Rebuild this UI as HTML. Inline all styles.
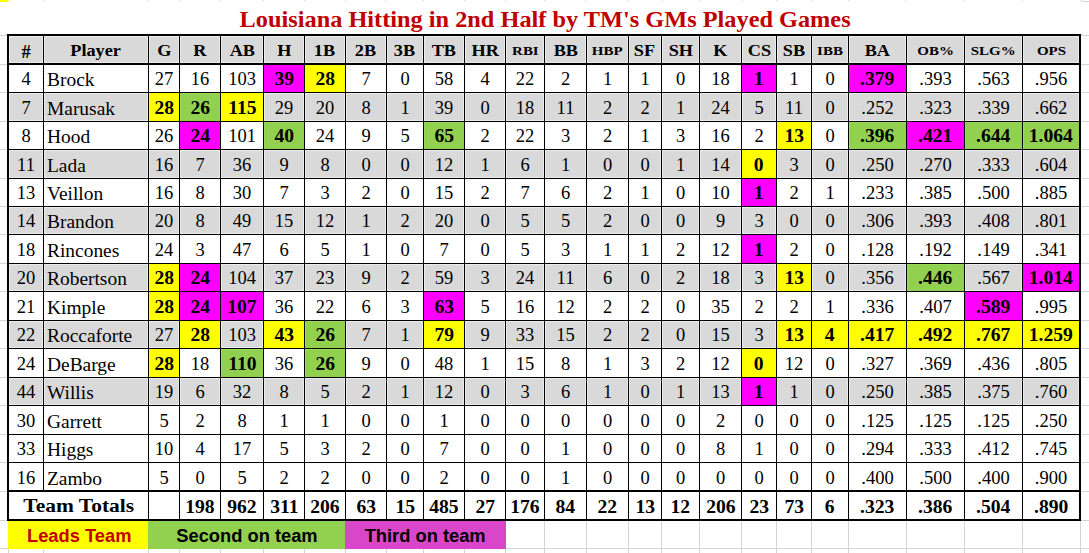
<!DOCTYPE html>
<html><head><meta charset="utf-8"><title>Louisiana Hitting</title>
<style>
*{margin:0;padding:0;box-sizing:border-box}
html,body{width:1089px;height:553px;overflow:hidden;background:#fff}
body{position:relative;font-family:"Liberation Serif",serif;color:#000}
.r{position:absolute}
.g{background:#d9d9d9;box-shadow:inset 0 0 0 1px #ececec}
.t{position:absolute;white-space:nowrap;overflow:visible}
.c{text-align:center}
.l{text-align:left;padding-left:3px}
.hb{font-weight:bold;font-size:16.3px}
.hs{font-weight:bold;font-size:12.8px}
.d{font-size:18.5px}
.b{font-weight:bold}
.tt{font-size:18.5px}
.lg{font-family:"Liberation Sans",sans-serif;font-weight:bold;font-size:17.6px}
.title{position:absolute;left:1px;top:0;width:1089px;height:34px;text-align:center;
 color:#c00000;font-weight:bold;font-size:23.9px;line-height:34px;padding-top:0px}
</style></head>
<body>
<div class="r" style="left:43px;top:0px;width:1px;height:1px;background:#d4d4d4;"></div>
<div class="r" style="left:148px;top:0px;width:1px;height:1px;background:#d4d4d4;"></div>
<div class="r" style="left:179px;top:0px;width:1px;height:1px;background:#d4d4d4;"></div>
<div class="r" style="left:220px;top:0px;width:1px;height:1px;background:#d4d4d4;"></div>
<div class="r" style="left:263px;top:0px;width:1px;height:1px;background:#d4d4d4;"></div>
<div class="r" style="left:304px;top:0px;width:1px;height:1px;background:#d4d4d4;"></div>
<div class="r" style="left:345px;top:0px;width:1px;height:1px;background:#d4d4d4;"></div>
<div class="r" style="left:386px;top:0px;width:1px;height:1px;background:#d4d4d4;"></div>
<div class="r" style="left:423px;top:0px;width:1px;height:1px;background:#d4d4d4;"></div>
<div class="r" style="left:464px;top:0px;width:1px;height:1px;background:#d4d4d4;"></div>
<div class="r" style="left:505px;top:0px;width:1px;height:1px;background:#d4d4d4;"></div>
<div class="r" style="left:544px;top:0px;width:1px;height:1px;background:#d4d4d4;"></div>
<div class="r" style="left:586px;top:0px;width:1px;height:1px;background:#d4d4d4;"></div>
<div class="r" style="left:628px;top:0px;width:1px;height:1px;background:#d4d4d4;"></div>
<div class="r" style="left:661px;top:0px;width:1px;height:1px;background:#d4d4d4;"></div>
<div class="r" style="left:699px;top:0px;width:1px;height:1px;background:#d4d4d4;"></div>
<div class="r" style="left:741px;top:0px;width:1px;height:1px;background:#d4d4d4;"></div>
<div class="r" style="left:776px;top:0px;width:1px;height:1px;background:#d4d4d4;"></div>
<div class="r" style="left:811px;top:0px;width:1px;height:1px;background:#d4d4d4;"></div>
<div class="r" style="left:848px;top:0px;width:1px;height:1px;background:#d4d4d4;"></div>
<div class="r" style="left:906px;top:0px;width:1px;height:1px;background:#d4d4d4;"></div>
<div class="r" style="left:964px;top:0px;width:1px;height:1px;background:#d4d4d4;"></div>
<div class="r" style="left:1022px;top:0px;width:1px;height:1px;background:#d4d4d4;"></div>
<div class="r" style="left:1080px;top:0px;width:1px;height:1px;background:#d4d4d4;"></div>
<div class="r" style="left:1081px;top:1px;width:8px;height:1px;background:#d4d4d4;"></div>
<div class="r" style="left:0px;top:0px;width:9px;height:1px;background:#ffff00;"></div>
<div class="r" style="left:0px;top:1px;width:8px;height:1px;background:#ffff00;"></div>
<div class="r" style="left:0px;top:35px;width:7px;height:1px;background:#d4d4d4;"></div>
<div class="r" style="left:1081px;top:35px;width:8px;height:1px;background:#d4d4d4;"></div>
<div class="r" style="left:0px;top:64px;width:7px;height:1px;background:#d4d4d4;"></div>
<div class="r" style="left:1081px;top:64px;width:8px;height:1px;background:#d4d4d4;"></div>
<div class="r" style="left:0px;top:92px;width:7px;height:1px;background:#d4d4d4;"></div>
<div class="r" style="left:1081px;top:92px;width:8px;height:1px;background:#d4d4d4;"></div>
<div class="r" style="left:0px;top:121px;width:7px;height:1px;background:#d4d4d4;"></div>
<div class="r" style="left:1081px;top:121px;width:8px;height:1px;background:#d4d4d4;"></div>
<div class="r" style="left:0px;top:149px;width:7px;height:1px;background:#d4d4d4;"></div>
<div class="r" style="left:1081px;top:149px;width:8px;height:1px;background:#d4d4d4;"></div>
<div class="r" style="left:0px;top:178px;width:7px;height:1px;background:#d4d4d4;"></div>
<div class="r" style="left:1081px;top:178px;width:8px;height:1px;background:#d4d4d4;"></div>
<div class="r" style="left:0px;top:206px;width:7px;height:1px;background:#d4d4d4;"></div>
<div class="r" style="left:1081px;top:206px;width:8px;height:1px;background:#d4d4d4;"></div>
<div class="r" style="left:0px;top:234px;width:7px;height:1px;background:#d4d4d4;"></div>
<div class="r" style="left:1081px;top:234px;width:8px;height:1px;background:#d4d4d4;"></div>
<div class="r" style="left:0px;top:263px;width:7px;height:1px;background:#d4d4d4;"></div>
<div class="r" style="left:1081px;top:263px;width:8px;height:1px;background:#d4d4d4;"></div>
<div class="r" style="left:0px;top:291px;width:7px;height:1px;background:#d4d4d4;"></div>
<div class="r" style="left:1081px;top:291px;width:8px;height:1px;background:#d4d4d4;"></div>
<div class="r" style="left:0px;top:320px;width:7px;height:1px;background:#d4d4d4;"></div>
<div class="r" style="left:1081px;top:320px;width:8px;height:1px;background:#d4d4d4;"></div>
<div class="r" style="left:0px;top:348px;width:7px;height:1px;background:#d4d4d4;"></div>
<div class="r" style="left:1081px;top:348px;width:8px;height:1px;background:#d4d4d4;"></div>
<div class="r" style="left:0px;top:377px;width:7px;height:1px;background:#d4d4d4;"></div>
<div class="r" style="left:1081px;top:377px;width:8px;height:1px;background:#d4d4d4;"></div>
<div class="r" style="left:0px;top:405px;width:7px;height:1px;background:#d4d4d4;"></div>
<div class="r" style="left:1081px;top:405px;width:8px;height:1px;background:#d4d4d4;"></div>
<div class="r" style="left:0px;top:434px;width:7px;height:1px;background:#d4d4d4;"></div>
<div class="r" style="left:1081px;top:434px;width:8px;height:1px;background:#d4d4d4;"></div>
<div class="r" style="left:0px;top:462px;width:7px;height:1px;background:#d4d4d4;"></div>
<div class="r" style="left:1081px;top:462px;width:8px;height:1px;background:#d4d4d4;"></div>
<div class="r" style="left:0px;top:491px;width:7px;height:1px;background:#d4d4d4;"></div>
<div class="r" style="left:1081px;top:491px;width:8px;height:1px;background:#d4d4d4;"></div>
<div class="r" style="left:0px;top:520px;width:7px;height:1px;background:#d4d4d4;"></div>
<div class="r" style="left:1081px;top:520px;width:8px;height:1px;background:#d4d4d4;"></div>
<div class="r" style="left:1081px;top:548px;width:8px;height:1px;background:#d4d4d4;"></div>
<div class="r" style="left:0px;top:548px;width:8px;height:1px;background:#d4d4d4;"></div>
<div class="r" style="left:506px;top:548px;width:575px;height:1px;background:#d4d4d4;"></div>
<div class="r" style="left:544px;top:521px;width:1px;height:27px;background:#d4d4d4;"></div>
<div class="r" style="left:586px;top:521px;width:1px;height:27px;background:#d4d4d4;"></div>
<div class="r" style="left:628px;top:521px;width:1px;height:27px;background:#d4d4d4;"></div>
<div class="r" style="left:661px;top:521px;width:1px;height:27px;background:#d4d4d4;"></div>
<div class="r" style="left:699px;top:521px;width:1px;height:27px;background:#d4d4d4;"></div>
<div class="r" style="left:741px;top:521px;width:1px;height:27px;background:#d4d4d4;"></div>
<div class="r" style="left:776px;top:521px;width:1px;height:27px;background:#d4d4d4;"></div>
<div class="r" style="left:811px;top:521px;width:1px;height:27px;background:#d4d4d4;"></div>
<div class="r" style="left:848px;top:521px;width:1px;height:27px;background:#d4d4d4;"></div>
<div class="r" style="left:906px;top:521px;width:1px;height:27px;background:#d4d4d4;"></div>
<div class="r" style="left:964px;top:521px;width:1px;height:27px;background:#d4d4d4;"></div>
<div class="r" style="left:1022px;top:521px;width:1px;height:27px;background:#d4d4d4;"></div>
<div class="r" style="left:8px;top:549px;width:1px;height:4px;background:#d4d4d4;"></div>
<div class="r" style="left:43px;top:549px;width:1px;height:4px;background:#d4d4d4;"></div>
<div class="r" style="left:148px;top:549px;width:1px;height:4px;background:#d4d4d4;"></div>
<div class="r" style="left:179px;top:549px;width:1px;height:4px;background:#d4d4d4;"></div>
<div class="r" style="left:220px;top:549px;width:1px;height:4px;background:#d4d4d4;"></div>
<div class="r" style="left:263px;top:549px;width:1px;height:4px;background:#d4d4d4;"></div>
<div class="r" style="left:304px;top:549px;width:1px;height:4px;background:#d4d4d4;"></div>
<div class="r" style="left:345px;top:549px;width:1px;height:4px;background:#d4d4d4;"></div>
<div class="r" style="left:386px;top:549px;width:1px;height:4px;background:#d4d4d4;"></div>
<div class="r" style="left:423px;top:549px;width:1px;height:4px;background:#d4d4d4;"></div>
<div class="r" style="left:464px;top:549px;width:1px;height:4px;background:#d4d4d4;"></div>
<div class="r" style="left:505px;top:549px;width:1px;height:4px;background:#d4d4d4;"></div>
<div class="r" style="left:544px;top:549px;width:1px;height:4px;background:#d4d4d4;"></div>
<div class="r" style="left:586px;top:549px;width:1px;height:4px;background:#d4d4d4;"></div>
<div class="r" style="left:628px;top:549px;width:1px;height:4px;background:#d4d4d4;"></div>
<div class="r" style="left:661px;top:549px;width:1px;height:4px;background:#d4d4d4;"></div>
<div class="r" style="left:699px;top:549px;width:1px;height:4px;background:#d4d4d4;"></div>
<div class="r" style="left:741px;top:549px;width:1px;height:4px;background:#d4d4d4;"></div>
<div class="r" style="left:776px;top:549px;width:1px;height:4px;background:#d4d4d4;"></div>
<div class="r" style="left:811px;top:549px;width:1px;height:4px;background:#d4d4d4;"></div>
<div class="r" style="left:848px;top:549px;width:1px;height:4px;background:#d4d4d4;"></div>
<div class="r" style="left:906px;top:549px;width:1px;height:4px;background:#d4d4d4;"></div>
<div class="r" style="left:964px;top:549px;width:1px;height:4px;background:#d4d4d4;"></div>
<div class="r" style="left:1022px;top:549px;width:1px;height:4px;background:#d4d4d4;"></div>
<div class="r" style="left:1080px;top:549px;width:1px;height:4px;background:#d4d4d4;"></div>
<div class="r" style="left:1080px;top:521px;width:1px;height:27px;background:#d4d4d4;"></div>
<div class="r g" style="left:9px;top:36px;width:34px;height:27px"></div>
<div class="r g" style="left:44px;top:36px;width:104px;height:27px"></div>
<div class="r g" style="left:149px;top:36px;width:30px;height:27px"></div>
<div class="r g" style="left:180px;top:36px;width:40px;height:27px"></div>
<div class="r g" style="left:221px;top:36px;width:42px;height:27px"></div>
<div class="r g" style="left:264px;top:36px;width:40px;height:27px"></div>
<div class="r g" style="left:305px;top:36px;width:40px;height:27px"></div>
<div class="r g" style="left:346px;top:36px;width:40px;height:27px"></div>
<div class="r g" style="left:387px;top:36px;width:36px;height:27px"></div>
<div class="r g" style="left:424px;top:36px;width:40px;height:27px"></div>
<div class="r g" style="left:465px;top:36px;width:40px;height:27px"></div>
<div class="r g" style="left:506px;top:36px;width:38px;height:27px"></div>
<div class="r g" style="left:545px;top:36px;width:41px;height:27px"></div>
<div class="r g" style="left:587px;top:36px;width:41px;height:27px"></div>
<div class="r g" style="left:629px;top:36px;width:32px;height:27px"></div>
<div class="r g" style="left:662px;top:36px;width:37px;height:27px"></div>
<div class="r g" style="left:700px;top:36px;width:41px;height:27px"></div>
<div class="r g" style="left:742px;top:36px;width:34px;height:27px"></div>
<div class="r g" style="left:777px;top:36px;width:34px;height:27px"></div>
<div class="r g" style="left:812px;top:36px;width:36px;height:27px"></div>
<div class="r g" style="left:849px;top:36px;width:57px;height:27px"></div>
<div class="r g" style="left:907px;top:36px;width:57px;height:27px"></div>
<div class="r g" style="left:965px;top:36px;width:57px;height:27px"></div>
<div class="r g" style="left:1023px;top:36px;width:56px;height:27px"></div>
<div class="r" style="left:263px;top:64px;width:42px;height:29px;background:#ff00ff;"></div>
<div class="r" style="left:304px;top:64px;width:42px;height:29px;background:#ffff00;"></div>
<div class="r" style="left:741px;top:64px;width:36px;height:29px;background:#ff00ff;"></div>
<div class="r" style="left:848px;top:64px;width:59px;height:29px;background:#ff00ff;"></div>
<div class="r g" style="left:9px;top:93px;width:34px;height:28px"></div>
<div class="r g" style="left:44px;top:93px;width:104px;height:28px"></div>
<div class="r" style="left:148px;top:92px;width:32px;height:30px;background:#ffff00;"></div>
<div class="r" style="left:179px;top:92px;width:42px;height:30px;background:#92d050;"></div>
<div class="r" style="left:180px;top:93px;width:40px;height:28px;box-shadow:inset 1px 1px 0 #99dc58"></div>
<div class="r" style="left:220px;top:92px;width:44px;height:30px;background:#ffff00;"></div>
<div class="r g" style="left:264px;top:93px;width:40px;height:28px"></div>
<div class="r g" style="left:305px;top:93px;width:40px;height:28px"></div>
<div class="r g" style="left:346px;top:93px;width:40px;height:28px"></div>
<div class="r g" style="left:387px;top:93px;width:36px;height:28px"></div>
<div class="r g" style="left:424px;top:93px;width:40px;height:28px"></div>
<div class="r g" style="left:465px;top:93px;width:40px;height:28px"></div>
<div class="r g" style="left:506px;top:93px;width:38px;height:28px"></div>
<div class="r g" style="left:545px;top:93px;width:41px;height:28px"></div>
<div class="r g" style="left:587px;top:93px;width:41px;height:28px"></div>
<div class="r g" style="left:629px;top:93px;width:32px;height:28px"></div>
<div class="r g" style="left:662px;top:93px;width:37px;height:28px"></div>
<div class="r g" style="left:700px;top:93px;width:41px;height:28px"></div>
<div class="r g" style="left:742px;top:93px;width:34px;height:28px"></div>
<div class="r g" style="left:777px;top:93px;width:34px;height:28px"></div>
<div class="r g" style="left:812px;top:93px;width:36px;height:28px"></div>
<div class="r g" style="left:849px;top:93px;width:57px;height:28px"></div>
<div class="r g" style="left:907px;top:93px;width:57px;height:28px"></div>
<div class="r g" style="left:965px;top:93px;width:57px;height:28px"></div>
<div class="r g" style="left:1023px;top:93px;width:56px;height:28px"></div>
<div class="r" style="left:179px;top:121px;width:42px;height:29px;background:#ff00ff;"></div>
<div class="r" style="left:263px;top:121px;width:42px;height:29px;background:#92d050;"></div>
<div class="r" style="left:264px;top:122px;width:40px;height:27px;box-shadow:inset 1px 1px 0 #99dc58"></div>
<div class="r" style="left:423px;top:121px;width:42px;height:29px;background:#92d050;"></div>
<div class="r" style="left:424px;top:122px;width:40px;height:27px;box-shadow:inset 1px 1px 0 #99dc58"></div>
<div class="r" style="left:776px;top:121px;width:36px;height:29px;background:#ffff00;"></div>
<div class="r" style="left:848px;top:121px;width:59px;height:29px;background:#92d050;"></div>
<div class="r" style="left:849px;top:122px;width:57px;height:27px;box-shadow:inset 1px 1px 0 #99dc58"></div>
<div class="r" style="left:906px;top:121px;width:59px;height:29px;background:#ff00ff;"></div>
<div class="r" style="left:964px;top:121px;width:59px;height:29px;background:#92d050;"></div>
<div class="r" style="left:965px;top:122px;width:57px;height:27px;box-shadow:inset 1px 1px 0 #99dc58"></div>
<div class="r" style="left:1022px;top:121px;width:58px;height:29px;background:#92d050;"></div>
<div class="r" style="left:1023px;top:122px;width:56px;height:27px;box-shadow:inset 1px 1px 0 #99dc58"></div>
<div class="r g" style="left:9px;top:150px;width:34px;height:28px"></div>
<div class="r g" style="left:44px;top:150px;width:104px;height:28px"></div>
<div class="r g" style="left:149px;top:150px;width:30px;height:28px"></div>
<div class="r g" style="left:180px;top:150px;width:40px;height:28px"></div>
<div class="r g" style="left:221px;top:150px;width:42px;height:28px"></div>
<div class="r g" style="left:264px;top:150px;width:40px;height:28px"></div>
<div class="r g" style="left:305px;top:150px;width:40px;height:28px"></div>
<div class="r g" style="left:346px;top:150px;width:40px;height:28px"></div>
<div class="r g" style="left:387px;top:150px;width:36px;height:28px"></div>
<div class="r g" style="left:424px;top:150px;width:40px;height:28px"></div>
<div class="r g" style="left:465px;top:150px;width:40px;height:28px"></div>
<div class="r g" style="left:506px;top:150px;width:38px;height:28px"></div>
<div class="r g" style="left:545px;top:150px;width:41px;height:28px"></div>
<div class="r g" style="left:587px;top:150px;width:41px;height:28px"></div>
<div class="r g" style="left:629px;top:150px;width:32px;height:28px"></div>
<div class="r g" style="left:662px;top:150px;width:37px;height:28px"></div>
<div class="r g" style="left:700px;top:150px;width:41px;height:28px"></div>
<div class="r" style="left:741px;top:149px;width:36px;height:30px;background:#ffff00;"></div>
<div class="r g" style="left:777px;top:150px;width:34px;height:28px"></div>
<div class="r g" style="left:812px;top:150px;width:36px;height:28px"></div>
<div class="r g" style="left:849px;top:150px;width:57px;height:28px"></div>
<div class="r g" style="left:907px;top:150px;width:57px;height:28px"></div>
<div class="r g" style="left:965px;top:150px;width:57px;height:28px"></div>
<div class="r g" style="left:1023px;top:150px;width:56px;height:28px"></div>
<div class="r" style="left:741px;top:178px;width:36px;height:29px;background:#ff00ff;"></div>
<div class="r g" style="left:9px;top:207px;width:34px;height:27px"></div>
<div class="r g" style="left:44px;top:207px;width:104px;height:27px"></div>
<div class="r g" style="left:149px;top:207px;width:30px;height:27px"></div>
<div class="r g" style="left:180px;top:207px;width:40px;height:27px"></div>
<div class="r g" style="left:221px;top:207px;width:42px;height:27px"></div>
<div class="r g" style="left:264px;top:207px;width:40px;height:27px"></div>
<div class="r g" style="left:305px;top:207px;width:40px;height:27px"></div>
<div class="r g" style="left:346px;top:207px;width:40px;height:27px"></div>
<div class="r g" style="left:387px;top:207px;width:36px;height:27px"></div>
<div class="r g" style="left:424px;top:207px;width:40px;height:27px"></div>
<div class="r g" style="left:465px;top:207px;width:40px;height:27px"></div>
<div class="r g" style="left:506px;top:207px;width:38px;height:27px"></div>
<div class="r g" style="left:545px;top:207px;width:41px;height:27px"></div>
<div class="r g" style="left:587px;top:207px;width:41px;height:27px"></div>
<div class="r g" style="left:629px;top:207px;width:32px;height:27px"></div>
<div class="r g" style="left:662px;top:207px;width:37px;height:27px"></div>
<div class="r g" style="left:700px;top:207px;width:41px;height:27px"></div>
<div class="r g" style="left:742px;top:207px;width:34px;height:27px"></div>
<div class="r g" style="left:777px;top:207px;width:34px;height:27px"></div>
<div class="r g" style="left:812px;top:207px;width:36px;height:27px"></div>
<div class="r g" style="left:849px;top:207px;width:57px;height:27px"></div>
<div class="r g" style="left:907px;top:207px;width:57px;height:27px"></div>
<div class="r g" style="left:965px;top:207px;width:57px;height:27px"></div>
<div class="r g" style="left:1023px;top:207px;width:56px;height:27px"></div>
<div class="r" style="left:741px;top:234px;width:36px;height:30px;background:#ff00ff;"></div>
<div class="r g" style="left:9px;top:264px;width:34px;height:27px"></div>
<div class="r g" style="left:44px;top:264px;width:104px;height:27px"></div>
<div class="r" style="left:148px;top:263px;width:32px;height:29px;background:#ffff00;"></div>
<div class="r" style="left:179px;top:263px;width:42px;height:29px;background:#ff00ff;"></div>
<div class="r g" style="left:221px;top:264px;width:42px;height:27px"></div>
<div class="r g" style="left:264px;top:264px;width:40px;height:27px"></div>
<div class="r g" style="left:305px;top:264px;width:40px;height:27px"></div>
<div class="r g" style="left:346px;top:264px;width:40px;height:27px"></div>
<div class="r g" style="left:387px;top:264px;width:36px;height:27px"></div>
<div class="r g" style="left:424px;top:264px;width:40px;height:27px"></div>
<div class="r g" style="left:465px;top:264px;width:40px;height:27px"></div>
<div class="r g" style="left:506px;top:264px;width:38px;height:27px"></div>
<div class="r g" style="left:545px;top:264px;width:41px;height:27px"></div>
<div class="r g" style="left:587px;top:264px;width:41px;height:27px"></div>
<div class="r g" style="left:629px;top:264px;width:32px;height:27px"></div>
<div class="r g" style="left:662px;top:264px;width:37px;height:27px"></div>
<div class="r g" style="left:700px;top:264px;width:41px;height:27px"></div>
<div class="r g" style="left:742px;top:264px;width:34px;height:27px"></div>
<div class="r" style="left:776px;top:263px;width:36px;height:29px;background:#ffff00;"></div>
<div class="r g" style="left:812px;top:264px;width:36px;height:27px"></div>
<div class="r g" style="left:849px;top:264px;width:57px;height:27px"></div>
<div class="r" style="left:906px;top:263px;width:59px;height:29px;background:#92d050;"></div>
<div class="r" style="left:907px;top:264px;width:57px;height:27px;box-shadow:inset 1px 1px 0 #99dc58"></div>
<div class="r g" style="left:965px;top:264px;width:57px;height:27px"></div>
<div class="r" style="left:1022px;top:263px;width:58px;height:29px;background:#ff00ff;"></div>
<div class="r" style="left:148px;top:291px;width:32px;height:30px;background:#ffff00;"></div>
<div class="r" style="left:179px;top:291px;width:42px;height:30px;background:#ff00ff;"></div>
<div class="r" style="left:220px;top:291px;width:44px;height:30px;background:#ff00ff;"></div>
<div class="r" style="left:423px;top:291px;width:42px;height:30px;background:#ff00ff;"></div>
<div class="r" style="left:964px;top:291px;width:59px;height:30px;background:#ff00ff;"></div>
<div class="r g" style="left:9px;top:321px;width:34px;height:27px"></div>
<div class="r g" style="left:44px;top:321px;width:104px;height:27px"></div>
<div class="r g" style="left:149px;top:321px;width:30px;height:27px"></div>
<div class="r" style="left:179px;top:320px;width:42px;height:29px;background:#ffff00;"></div>
<div class="r g" style="left:221px;top:321px;width:42px;height:27px"></div>
<div class="r" style="left:263px;top:320px;width:42px;height:29px;background:#ffff00;"></div>
<div class="r" style="left:304px;top:320px;width:42px;height:29px;background:#92d050;"></div>
<div class="r" style="left:305px;top:321px;width:40px;height:27px;box-shadow:inset 1px 1px 0 #99dc58"></div>
<div class="r g" style="left:346px;top:321px;width:40px;height:27px"></div>
<div class="r g" style="left:387px;top:321px;width:36px;height:27px"></div>
<div class="r" style="left:423px;top:320px;width:42px;height:29px;background:#ffff00;"></div>
<div class="r g" style="left:465px;top:321px;width:40px;height:27px"></div>
<div class="r g" style="left:506px;top:321px;width:38px;height:27px"></div>
<div class="r g" style="left:545px;top:321px;width:41px;height:27px"></div>
<div class="r g" style="left:587px;top:321px;width:41px;height:27px"></div>
<div class="r g" style="left:629px;top:321px;width:32px;height:27px"></div>
<div class="r g" style="left:662px;top:321px;width:37px;height:27px"></div>
<div class="r g" style="left:700px;top:321px;width:41px;height:27px"></div>
<div class="r g" style="left:742px;top:321px;width:34px;height:27px"></div>
<div class="r" style="left:776px;top:320px;width:36px;height:29px;background:#ffff00;"></div>
<div class="r" style="left:811px;top:320px;width:38px;height:29px;background:#ffff00;"></div>
<div class="r" style="left:848px;top:320px;width:59px;height:29px;background:#ffff00;"></div>
<div class="r" style="left:906px;top:320px;width:59px;height:29px;background:#ffff00;"></div>
<div class="r" style="left:964px;top:320px;width:59px;height:29px;background:#ffff00;"></div>
<div class="r" style="left:1022px;top:320px;width:58px;height:29px;background:#ffff00;"></div>
<div class="r" style="left:148px;top:348px;width:32px;height:30px;background:#ffff00;"></div>
<div class="r" style="left:220px;top:348px;width:44px;height:30px;background:#92d050;"></div>
<div class="r" style="left:221px;top:349px;width:42px;height:28px;box-shadow:inset 1px 1px 0 #99dc58"></div>
<div class="r" style="left:304px;top:348px;width:42px;height:30px;background:#92d050;"></div>
<div class="r" style="left:305px;top:349px;width:40px;height:28px;box-shadow:inset 1px 1px 0 #99dc58"></div>
<div class="r" style="left:741px;top:348px;width:36px;height:30px;background:#ffff00;"></div>
<div class="r g" style="left:9px;top:378px;width:34px;height:27px"></div>
<div class="r g" style="left:44px;top:378px;width:104px;height:27px"></div>
<div class="r g" style="left:149px;top:378px;width:30px;height:27px"></div>
<div class="r g" style="left:180px;top:378px;width:40px;height:27px"></div>
<div class="r g" style="left:221px;top:378px;width:42px;height:27px"></div>
<div class="r g" style="left:264px;top:378px;width:40px;height:27px"></div>
<div class="r g" style="left:305px;top:378px;width:40px;height:27px"></div>
<div class="r g" style="left:346px;top:378px;width:40px;height:27px"></div>
<div class="r g" style="left:387px;top:378px;width:36px;height:27px"></div>
<div class="r g" style="left:424px;top:378px;width:40px;height:27px"></div>
<div class="r g" style="left:465px;top:378px;width:40px;height:27px"></div>
<div class="r g" style="left:506px;top:378px;width:38px;height:27px"></div>
<div class="r g" style="left:545px;top:378px;width:41px;height:27px"></div>
<div class="r g" style="left:587px;top:378px;width:41px;height:27px"></div>
<div class="r g" style="left:629px;top:378px;width:32px;height:27px"></div>
<div class="r g" style="left:662px;top:378px;width:37px;height:27px"></div>
<div class="r g" style="left:700px;top:378px;width:41px;height:27px"></div>
<div class="r" style="left:741px;top:377px;width:36px;height:29px;background:#ff00ff;"></div>
<div class="r g" style="left:777px;top:378px;width:34px;height:27px"></div>
<div class="r g" style="left:812px;top:378px;width:36px;height:27px"></div>
<div class="r g" style="left:849px;top:378px;width:57px;height:27px"></div>
<div class="r g" style="left:907px;top:378px;width:57px;height:27px"></div>
<div class="r g" style="left:965px;top:378px;width:57px;height:27px"></div>
<div class="r g" style="left:1023px;top:378px;width:56px;height:27px"></div>
<div class="r" style="left:8px;top:521px;width:140px;height:28px;background:#ffff00;"></div>
<div class="r" style="left:148px;top:521px;width:197px;height:28px;background:#92d050;"></div>
<div class="r" style="left:345px;top:521px;width:161px;height:28px;background:#da46c9;"></div>
<div class="r" style="left:7px;top:34px;width:2px;height:487px;background:#000;"></div>
<div class="r" style="left:1079px;top:34px;width:2px;height:487px;background:#000;"></div>
<div class="r" style="left:7px;top:34px;width:1074px;height:2px;background:#000;"></div>
<div class="r" style="left:7px;top:63px;width:1074px;height:2px;background:#000;"></div>
<div class="r" style="left:7px;top:92px;width:1074px;height:1px;background:#000;"></div>
<div class="r" style="left:7px;top:121px;width:1074px;height:1px;background:#000;"></div>
<div class="r" style="left:7px;top:149px;width:1074px;height:1px;background:#000;"></div>
<div class="r" style="left:7px;top:178px;width:1074px;height:1px;background:#000;"></div>
<div class="r" style="left:7px;top:206px;width:1074px;height:1px;background:#000;"></div>
<div class="r" style="left:7px;top:234px;width:1074px;height:1px;background:#000;"></div>
<div class="r" style="left:7px;top:263px;width:1074px;height:1px;background:#000;"></div>
<div class="r" style="left:7px;top:291px;width:1074px;height:1px;background:#000;"></div>
<div class="r" style="left:7px;top:320px;width:1074px;height:1px;background:#000;"></div>
<div class="r" style="left:7px;top:348px;width:1074px;height:1px;background:#000;"></div>
<div class="r" style="left:7px;top:377px;width:1074px;height:1px;background:#000;"></div>
<div class="r" style="left:7px;top:405px;width:1074px;height:1px;background:#000;"></div>
<div class="r" style="left:7px;top:434px;width:1074px;height:1px;background:#000;"></div>
<div class="r" style="left:7px;top:462px;width:1074px;height:1px;background:#000;"></div>
<div class="r" style="left:7px;top:490px;width:1074px;height:2px;background:#000;"></div>
<div class="r" style="left:7px;top:519px;width:1074px;height:2px;background:#000;"></div>
<div class="r" style="left:43px;top:34px;width:1px;height:456px;background:#000;"></div>
<div class="r" style="left:148px;top:34px;width:1px;height:485px;background:#000;"></div>
<div class="r" style="left:179px;top:34px;width:1px;height:485px;background:#000;"></div>
<div class="r" style="left:220px;top:34px;width:1px;height:485px;background:#000;"></div>
<div class="r" style="left:263px;top:34px;width:1px;height:485px;background:#000;"></div>
<div class="r" style="left:304px;top:34px;width:1px;height:485px;background:#000;"></div>
<div class="r" style="left:345px;top:34px;width:1px;height:485px;background:#000;"></div>
<div class="r" style="left:386px;top:34px;width:1px;height:485px;background:#000;"></div>
<div class="r" style="left:423px;top:34px;width:1px;height:485px;background:#000;"></div>
<div class="r" style="left:464px;top:34px;width:1px;height:485px;background:#000;"></div>
<div class="r" style="left:505px;top:34px;width:1px;height:485px;background:#000;"></div>
<div class="r" style="left:544px;top:34px;width:1px;height:485px;background:#000;"></div>
<div class="r" style="left:586px;top:34px;width:1px;height:485px;background:#000;"></div>
<div class="r" style="left:628px;top:34px;width:1px;height:485px;background:#000;"></div>
<div class="r" style="left:661px;top:34px;width:1px;height:485px;background:#000;"></div>
<div class="r" style="left:699px;top:34px;width:1px;height:485px;background:#000;"></div>
<div class="r" style="left:741px;top:34px;width:1px;height:485px;background:#000;"></div>
<div class="r" style="left:776px;top:34px;width:1px;height:485px;background:#000;"></div>
<div class="r" style="left:811px;top:34px;width:1px;height:485px;background:#000;"></div>
<div class="r" style="left:848px;top:34px;width:1px;height:485px;background:#000;"></div>
<div class="r" style="left:906px;top:34px;width:1px;height:485px;background:#000;"></div>
<div class="r" style="left:964px;top:34px;width:1px;height:485px;background:#000;"></div>
<div class="r" style="left:1022px;top:34px;width:1px;height:485px;background:#000;"></div>
<div class="title"><span style="display:inline-block;transform:translateY(1.6px) scaleX(1.018);transform-origin:center center">Louisiana Hitting in 2nd Half by TM's GMs Played Games</span></div>
<div class="t hb c" style="left:9px;top:36px;width:34px;height:27px;line-height:27px;font-size:18.5px;"><span style="display:inline-block;transform:translateY(2.7px) scaleX(1.0);transform-origin:center center;">#</span></div>
<div class="t hb c" style="left:44px;top:36px;width:104px;height:27px;line-height:27px;"><span style="display:inline-block;transform:translateY(0.9px) scaleX(1.12);transform-origin:center center;">Player</span></div>
<div class="t hb c" style="left:149px;top:36px;width:30px;height:27px;line-height:27px;"><span style="display:inline-block;transform:translateY(0.9px) scaleX(1.12);transform-origin:center center;">G</span></div>
<div class="t hb c" style="left:180px;top:36px;width:40px;height:27px;line-height:27px;"><span style="display:inline-block;transform:translateY(0.9px) scaleX(1.12);transform-origin:center center;">R</span></div>
<div class="t hb c" style="left:221px;top:36px;width:42px;height:27px;line-height:27px;"><span style="display:inline-block;transform:translateY(0.9px) scaleX(1.12);transform-origin:center center;">AB</span></div>
<div class="t hb c" style="left:264px;top:36px;width:40px;height:27px;line-height:27px;"><span style="display:inline-block;transform:translateY(0.9px) scaleX(1.12);transform-origin:center center;">H</span></div>
<div class="t hb c" style="left:305px;top:36px;width:40px;height:27px;line-height:27px;"><span style="display:inline-block;transform:translateY(0.9px) scaleX(1.12);transform-origin:center center;">1B</span></div>
<div class="t hb c" style="left:346px;top:36px;width:40px;height:27px;line-height:27px;"><span style="display:inline-block;transform:translateY(0.9px) scaleX(1.12);transform-origin:center center;">2B</span></div>
<div class="t hb c" style="left:387px;top:36px;width:36px;height:27px;line-height:27px;"><span style="display:inline-block;transform:translateY(0.9px) scaleX(1.12);transform-origin:center center;">3B</span></div>
<div class="t hb c" style="left:424px;top:36px;width:40px;height:27px;line-height:27px;"><span style="display:inline-block;transform:translateY(0.9px) scaleX(1.12);transform-origin:center center;">TB</span></div>
<div class="t hb c" style="left:465px;top:36px;width:40px;height:27px;line-height:27px;"><span style="display:inline-block;transform:translateY(0.9px) scaleX(1.12);transform-origin:center center;">HR</span></div>
<div class="t hs c" style="left:506px;top:36px;width:38px;height:27px;line-height:27px;"><span style="display:inline-block;transform:translateY(2.0px) scaleX(1.17);transform-origin:center center;">RBI</span></div>
<div class="t hb c" style="left:545px;top:36px;width:41px;height:27px;line-height:27px;"><span style="display:inline-block;transform:translateY(0.9px) scaleX(1.12);transform-origin:center center;">BB</span></div>
<div class="t hs c" style="left:587px;top:36px;width:41px;height:27px;line-height:27px;"><span style="display:inline-block;transform:translateY(2.0px) scaleX(1.17);transform-origin:center center;">HBP</span></div>
<div class="t hb c" style="left:629px;top:36px;width:32px;height:27px;line-height:27px;"><span style="display:inline-block;transform:translateY(0.9px) scaleX(1.12);transform-origin:center center;">SF</span></div>
<div class="t hb c" style="left:662px;top:36px;width:37px;height:27px;line-height:27px;"><span style="display:inline-block;transform:translateY(0.9px) scaleX(1.12);transform-origin:center center;">SH</span></div>
<div class="t hb c" style="left:700px;top:36px;width:41px;height:27px;line-height:27px;"><span style="display:inline-block;transform:translateY(0.9px) scaleX(1.12);transform-origin:center center;">K</span></div>
<div class="t hb c" style="left:742px;top:36px;width:34px;height:27px;line-height:27px;"><span style="display:inline-block;transform:translateY(0.9px) scaleX(1.12);transform-origin:center center;">CS</span></div>
<div class="t hb c" style="left:777px;top:36px;width:34px;height:27px;line-height:27px;"><span style="display:inline-block;transform:translateY(0.9px) scaleX(1.12);transform-origin:center center;">SB</span></div>
<div class="t hs c" style="left:812px;top:36px;width:36px;height:27px;line-height:27px;"><span style="display:inline-block;transform:translateY(2.0px) scaleX(1.17);transform-origin:center center;">IBB</span></div>
<div class="t hb c" style="left:849px;top:36px;width:57px;height:27px;line-height:27px;"><span style="display:inline-block;transform:translateY(0.9px) scaleX(1.12);transform-origin:center center;">BA</span></div>
<div class="t hs c" style="left:907px;top:36px;width:57px;height:27px;line-height:27px;"><span style="display:inline-block;transform:translateY(2.0px) scaleX(1.17);transform-origin:center center;">OB%</span></div>
<div class="t hs c" style="left:965px;top:36px;width:57px;height:27px;line-height:27px;"><span style="display:inline-block;transform:translateY(2.0px) scaleX(1.17);transform-origin:center center;">SLG%</span></div>
<div class="t hs c" style="left:1023px;top:36px;width:56px;height:27px;line-height:27px;"><span style="display:inline-block;transform:translateY(2.0px) scaleX(1.17);transform-origin:center center;">OPS</span></div>
<div class="t d c" style="left:9px;top:65px;width:34px;height:27px;line-height:27px;"><span style="display:inline-block;transform:translateY(0.6px) scaleX(1.0);transform-origin:center center;">4</span></div>
<div class="t d nm l" style="left:44px;top:65px;width:104px;height:27px;line-height:27px;"><span style="display:inline-block;transform:translateY(1.6px) scaleX(1.05);transform-origin:left center;">Brock</span></div>
<div class="t d c" style="left:149px;top:65px;width:30px;height:27px;line-height:27px;"><span style="display:inline-block;transform:translateY(0.6px) scaleX(1.0);transform-origin:center center;">27</span></div>
<div class="t d c" style="left:180px;top:65px;width:40px;height:27px;line-height:27px;"><span style="display:inline-block;transform:translateY(0.6px) scaleX(1.0);transform-origin:center center;">16</span></div>
<div class="t d c" style="left:221px;top:65px;width:42px;height:27px;line-height:27px;"><span style="display:inline-block;transform:translateY(0.6px) scaleX(1.0);transform-origin:center center;">103</span></div>
<div class="t d b c" style="left:264px;top:65px;width:40px;height:27px;line-height:27px;"><span style="display:inline-block;transform:translateY(0.6px) scaleX(1.06);transform-origin:center center;">39</span></div>
<div class="t d b c" style="left:305px;top:65px;width:40px;height:27px;line-height:27px;"><span style="display:inline-block;transform:translateY(0.6px) scaleX(1.06);transform-origin:center center;">28</span></div>
<div class="t d c" style="left:346px;top:65px;width:40px;height:27px;line-height:27px;"><span style="display:inline-block;transform:translateY(0.6px) scaleX(1.0);transform-origin:center center;">7</span></div>
<div class="t d c" style="left:387px;top:65px;width:36px;height:27px;line-height:27px;"><span style="display:inline-block;transform:translateY(0.6px) scaleX(1.0);transform-origin:center center;">0</span></div>
<div class="t d c" style="left:424px;top:65px;width:40px;height:27px;line-height:27px;"><span style="display:inline-block;transform:translateY(0.6px) scaleX(1.0);transform-origin:center center;">58</span></div>
<div class="t d c" style="left:465px;top:65px;width:40px;height:27px;line-height:27px;"><span style="display:inline-block;transform:translateY(0.6px) scaleX(1.0);transform-origin:center center;">4</span></div>
<div class="t d c" style="left:506px;top:65px;width:38px;height:27px;line-height:27px;"><span style="display:inline-block;transform:translateY(0.6px) scaleX(1.0);transform-origin:center center;">22</span></div>
<div class="t d c" style="left:545px;top:65px;width:41px;height:27px;line-height:27px;"><span style="display:inline-block;transform:translateY(0.6px) scaleX(1.0);transform-origin:center center;">2</span></div>
<div class="t d c" style="left:587px;top:65px;width:41px;height:27px;line-height:27px;"><span style="display:inline-block;transform:translateY(0.6px) scaleX(1.0);transform-origin:center center;">1</span></div>
<div class="t d c" style="left:629px;top:65px;width:32px;height:27px;line-height:27px;"><span style="display:inline-block;transform:translateY(0.6px) scaleX(1.0);transform-origin:center center;">1</span></div>
<div class="t d c" style="left:662px;top:65px;width:37px;height:27px;line-height:27px;"><span style="display:inline-block;transform:translateY(0.6px) scaleX(1.0);transform-origin:center center;">0</span></div>
<div class="t d c" style="left:700px;top:65px;width:41px;height:27px;line-height:27px;"><span style="display:inline-block;transform:translateY(0.6px) scaleX(1.0);transform-origin:center center;">18</span></div>
<div class="t d b c" style="left:742px;top:65px;width:34px;height:27px;line-height:27px;"><span style="display:inline-block;transform:translateY(0.6px) scaleX(1.06);transform-origin:center center;">1</span></div>
<div class="t d c" style="left:777px;top:65px;width:34px;height:27px;line-height:27px;"><span style="display:inline-block;transform:translateY(0.6px) scaleX(1.0);transform-origin:center center;">1</span></div>
<div class="t d c" style="left:812px;top:65px;width:36px;height:27px;line-height:27px;"><span style="display:inline-block;transform:translateY(0.6px) scaleX(1.0);transform-origin:center center;">0</span></div>
<div class="t d b c" style="left:849px;top:65px;width:57px;height:27px;line-height:27px;"><span style="display:inline-block;transform:translateY(0.6px) scaleX(1.06);transform-origin:center center;">.379</span></div>
<div class="t d c" style="left:907px;top:65px;width:57px;height:27px;line-height:27px;"><span style="display:inline-block;transform:translateY(0.6px) scaleX(1.0);transform-origin:center center;">.393</span></div>
<div class="t d c" style="left:965px;top:65px;width:57px;height:27px;line-height:27px;"><span style="display:inline-block;transform:translateY(0.6px) scaleX(1.0);transform-origin:center center;">.563</span></div>
<div class="t d c" style="left:1023px;top:65px;width:56px;height:27px;line-height:27px;"><span style="display:inline-block;transform:translateY(0.6px) scaleX(1.0);transform-origin:center center;">.956</span></div>
<div class="t d c" style="left:9px;top:93px;width:34px;height:28px;line-height:28px;"><span style="display:inline-block;transform:translateY(0.6px) scaleX(1.0);transform-origin:center center;">7</span></div>
<div class="t d nm l" style="left:44px;top:93px;width:104px;height:28px;line-height:28px;"><span style="display:inline-block;transform:translateY(1.6px) scaleX(1.05);transform-origin:left center;">Marusak</span></div>
<div class="t d b c" style="left:149px;top:93px;width:30px;height:28px;line-height:28px;"><span style="display:inline-block;transform:translateY(0.6px) scaleX(1.06);transform-origin:center center;">28</span></div>
<div class="t d b c" style="left:180px;top:93px;width:40px;height:28px;line-height:28px;"><span style="display:inline-block;transform:translateY(0.6px) scaleX(1.06);transform-origin:center center;">26</span></div>
<div class="t d b c" style="left:221px;top:93px;width:42px;height:28px;line-height:28px;"><span style="display:inline-block;transform:translateY(0.6px) scaleX(1.06);transform-origin:center center;">115</span></div>
<div class="t d c" style="left:264px;top:93px;width:40px;height:28px;line-height:28px;"><span style="display:inline-block;transform:translateY(0.6px) scaleX(1.0);transform-origin:center center;">29</span></div>
<div class="t d c" style="left:305px;top:93px;width:40px;height:28px;line-height:28px;"><span style="display:inline-block;transform:translateY(0.6px) scaleX(1.0);transform-origin:center center;">20</span></div>
<div class="t d c" style="left:346px;top:93px;width:40px;height:28px;line-height:28px;"><span style="display:inline-block;transform:translateY(0.6px) scaleX(1.0);transform-origin:center center;">8</span></div>
<div class="t d c" style="left:387px;top:93px;width:36px;height:28px;line-height:28px;"><span style="display:inline-block;transform:translateY(0.6px) scaleX(1.0);transform-origin:center center;">1</span></div>
<div class="t d c" style="left:424px;top:93px;width:40px;height:28px;line-height:28px;"><span style="display:inline-block;transform:translateY(0.6px) scaleX(1.0);transform-origin:center center;">39</span></div>
<div class="t d c" style="left:465px;top:93px;width:40px;height:28px;line-height:28px;"><span style="display:inline-block;transform:translateY(0.6px) scaleX(1.0);transform-origin:center center;">0</span></div>
<div class="t d c" style="left:506px;top:93px;width:38px;height:28px;line-height:28px;"><span style="display:inline-block;transform:translateY(0.6px) scaleX(1.0);transform-origin:center center;">18</span></div>
<div class="t d c" style="left:545px;top:93px;width:41px;height:28px;line-height:28px;"><span style="display:inline-block;transform:translateY(0.6px) scaleX(1.0);transform-origin:center center;">11</span></div>
<div class="t d c" style="left:587px;top:93px;width:41px;height:28px;line-height:28px;"><span style="display:inline-block;transform:translateY(0.6px) scaleX(1.0);transform-origin:center center;">2</span></div>
<div class="t d c" style="left:629px;top:93px;width:32px;height:28px;line-height:28px;"><span style="display:inline-block;transform:translateY(0.6px) scaleX(1.0);transform-origin:center center;">2</span></div>
<div class="t d c" style="left:662px;top:93px;width:37px;height:28px;line-height:28px;"><span style="display:inline-block;transform:translateY(0.6px) scaleX(1.0);transform-origin:center center;">1</span></div>
<div class="t d c" style="left:700px;top:93px;width:41px;height:28px;line-height:28px;"><span style="display:inline-block;transform:translateY(0.6px) scaleX(1.0);transform-origin:center center;">24</span></div>
<div class="t d c" style="left:742px;top:93px;width:34px;height:28px;line-height:28px;"><span style="display:inline-block;transform:translateY(0.6px) scaleX(1.0);transform-origin:center center;">5</span></div>
<div class="t d c" style="left:777px;top:93px;width:34px;height:28px;line-height:28px;"><span style="display:inline-block;transform:translateY(0.6px) scaleX(1.0);transform-origin:center center;">11</span></div>
<div class="t d c" style="left:812px;top:93px;width:36px;height:28px;line-height:28px;"><span style="display:inline-block;transform:translateY(0.6px) scaleX(1.0);transform-origin:center center;">0</span></div>
<div class="t d c" style="left:849px;top:93px;width:57px;height:28px;line-height:28px;"><span style="display:inline-block;transform:translateY(0.6px) scaleX(1.0);transform-origin:center center;">.252</span></div>
<div class="t d c" style="left:907px;top:93px;width:57px;height:28px;line-height:28px;"><span style="display:inline-block;transform:translateY(0.6px) scaleX(1.0);transform-origin:center center;">.323</span></div>
<div class="t d c" style="left:965px;top:93px;width:57px;height:28px;line-height:28px;"><span style="display:inline-block;transform:translateY(0.6px) scaleX(1.0);transform-origin:center center;">.339</span></div>
<div class="t d c" style="left:1023px;top:93px;width:56px;height:28px;line-height:28px;"><span style="display:inline-block;transform:translateY(0.6px) scaleX(1.0);transform-origin:center center;">.662</span></div>
<div class="t d c" style="left:9px;top:122px;width:34px;height:27px;line-height:27px;"><span style="display:inline-block;transform:translateY(0.6px) scaleX(1.0);transform-origin:center center;">8</span></div>
<div class="t d nm l" style="left:44px;top:122px;width:104px;height:27px;line-height:27px;"><span style="display:inline-block;transform:translateY(1.6px) scaleX(1.05);transform-origin:left center;">Hood</span></div>
<div class="t d c" style="left:149px;top:122px;width:30px;height:27px;line-height:27px;"><span style="display:inline-block;transform:translateY(0.6px) scaleX(1.0);transform-origin:center center;">26</span></div>
<div class="t d b c" style="left:180px;top:122px;width:40px;height:27px;line-height:27px;"><span style="display:inline-block;transform:translateY(0.6px) scaleX(1.06);transform-origin:center center;">24</span></div>
<div class="t d c" style="left:221px;top:122px;width:42px;height:27px;line-height:27px;"><span style="display:inline-block;transform:translateY(0.6px) scaleX(1.0);transform-origin:center center;">101</span></div>
<div class="t d b c" style="left:264px;top:122px;width:40px;height:27px;line-height:27px;"><span style="display:inline-block;transform:translateY(0.6px) scaleX(1.06);transform-origin:center center;">40</span></div>
<div class="t d c" style="left:305px;top:122px;width:40px;height:27px;line-height:27px;"><span style="display:inline-block;transform:translateY(0.6px) scaleX(1.0);transform-origin:center center;">24</span></div>
<div class="t d c" style="left:346px;top:122px;width:40px;height:27px;line-height:27px;"><span style="display:inline-block;transform:translateY(0.6px) scaleX(1.0);transform-origin:center center;">9</span></div>
<div class="t d c" style="left:387px;top:122px;width:36px;height:27px;line-height:27px;"><span style="display:inline-block;transform:translateY(0.6px) scaleX(1.0);transform-origin:center center;">5</span></div>
<div class="t d b c" style="left:424px;top:122px;width:40px;height:27px;line-height:27px;"><span style="display:inline-block;transform:translateY(0.6px) scaleX(1.06);transform-origin:center center;">65</span></div>
<div class="t d c" style="left:465px;top:122px;width:40px;height:27px;line-height:27px;"><span style="display:inline-block;transform:translateY(0.6px) scaleX(1.0);transform-origin:center center;">2</span></div>
<div class="t d c" style="left:506px;top:122px;width:38px;height:27px;line-height:27px;"><span style="display:inline-block;transform:translateY(0.6px) scaleX(1.0);transform-origin:center center;">22</span></div>
<div class="t d c" style="left:545px;top:122px;width:41px;height:27px;line-height:27px;"><span style="display:inline-block;transform:translateY(0.6px) scaleX(1.0);transform-origin:center center;">3</span></div>
<div class="t d c" style="left:587px;top:122px;width:41px;height:27px;line-height:27px;"><span style="display:inline-block;transform:translateY(0.6px) scaleX(1.0);transform-origin:center center;">2</span></div>
<div class="t d c" style="left:629px;top:122px;width:32px;height:27px;line-height:27px;"><span style="display:inline-block;transform:translateY(0.6px) scaleX(1.0);transform-origin:center center;">1</span></div>
<div class="t d c" style="left:662px;top:122px;width:37px;height:27px;line-height:27px;"><span style="display:inline-block;transform:translateY(0.6px) scaleX(1.0);transform-origin:center center;">3</span></div>
<div class="t d c" style="left:700px;top:122px;width:41px;height:27px;line-height:27px;"><span style="display:inline-block;transform:translateY(0.6px) scaleX(1.0);transform-origin:center center;">16</span></div>
<div class="t d c" style="left:742px;top:122px;width:34px;height:27px;line-height:27px;"><span style="display:inline-block;transform:translateY(0.6px) scaleX(1.0);transform-origin:center center;">2</span></div>
<div class="t d b c" style="left:777px;top:122px;width:34px;height:27px;line-height:27px;"><span style="display:inline-block;transform:translateY(0.6px) scaleX(1.06);transform-origin:center center;">13</span></div>
<div class="t d c" style="left:812px;top:122px;width:36px;height:27px;line-height:27px;"><span style="display:inline-block;transform:translateY(0.6px) scaleX(1.0);transform-origin:center center;">0</span></div>
<div class="t d b c" style="left:849px;top:122px;width:57px;height:27px;line-height:27px;"><span style="display:inline-block;transform:translateY(0.6px) scaleX(1.06);transform-origin:center center;">.396</span></div>
<div class="t d b c" style="left:907px;top:122px;width:57px;height:27px;line-height:27px;"><span style="display:inline-block;transform:translateY(0.6px) scaleX(1.06);transform-origin:center center;">.421</span></div>
<div class="t d b c" style="left:965px;top:122px;width:57px;height:27px;line-height:27px;"><span style="display:inline-block;transform:translateY(0.6px) scaleX(1.06);transform-origin:center center;">.644</span></div>
<div class="t d b c" style="left:1023px;top:122px;width:56px;height:27px;line-height:27px;"><span style="display:inline-block;transform:translateY(0.6px) scaleX(1.06);transform-origin:center center;">1.064</span></div>
<div class="t d c" style="left:9px;top:150px;width:34px;height:28px;line-height:28px;"><span style="display:inline-block;transform:translateY(0.6px) scaleX(1.0);transform-origin:center center;">11</span></div>
<div class="t d nm l" style="left:44px;top:150px;width:104px;height:28px;line-height:28px;"><span style="display:inline-block;transform:translateY(1.6px) scaleX(1.05);transform-origin:left center;">Lada</span></div>
<div class="t d c" style="left:149px;top:150px;width:30px;height:28px;line-height:28px;"><span style="display:inline-block;transform:translateY(0.6px) scaleX(1.0);transform-origin:center center;">16</span></div>
<div class="t d c" style="left:180px;top:150px;width:40px;height:28px;line-height:28px;"><span style="display:inline-block;transform:translateY(0.6px) scaleX(1.0);transform-origin:center center;">7</span></div>
<div class="t d c" style="left:221px;top:150px;width:42px;height:28px;line-height:28px;"><span style="display:inline-block;transform:translateY(0.6px) scaleX(1.0);transform-origin:center center;">36</span></div>
<div class="t d c" style="left:264px;top:150px;width:40px;height:28px;line-height:28px;"><span style="display:inline-block;transform:translateY(0.6px) scaleX(1.0);transform-origin:center center;">9</span></div>
<div class="t d c" style="left:305px;top:150px;width:40px;height:28px;line-height:28px;"><span style="display:inline-block;transform:translateY(0.6px) scaleX(1.0);transform-origin:center center;">8</span></div>
<div class="t d c" style="left:346px;top:150px;width:40px;height:28px;line-height:28px;"><span style="display:inline-block;transform:translateY(0.6px) scaleX(1.0);transform-origin:center center;">0</span></div>
<div class="t d c" style="left:387px;top:150px;width:36px;height:28px;line-height:28px;"><span style="display:inline-block;transform:translateY(0.6px) scaleX(1.0);transform-origin:center center;">0</span></div>
<div class="t d c" style="left:424px;top:150px;width:40px;height:28px;line-height:28px;"><span style="display:inline-block;transform:translateY(0.6px) scaleX(1.0);transform-origin:center center;">12</span></div>
<div class="t d c" style="left:465px;top:150px;width:40px;height:28px;line-height:28px;"><span style="display:inline-block;transform:translateY(0.6px) scaleX(1.0);transform-origin:center center;">1</span></div>
<div class="t d c" style="left:506px;top:150px;width:38px;height:28px;line-height:28px;"><span style="display:inline-block;transform:translateY(0.6px) scaleX(1.0);transform-origin:center center;">6</span></div>
<div class="t d c" style="left:545px;top:150px;width:41px;height:28px;line-height:28px;"><span style="display:inline-block;transform:translateY(0.6px) scaleX(1.0);transform-origin:center center;">1</span></div>
<div class="t d c" style="left:587px;top:150px;width:41px;height:28px;line-height:28px;"><span style="display:inline-block;transform:translateY(0.6px) scaleX(1.0);transform-origin:center center;">0</span></div>
<div class="t d c" style="left:629px;top:150px;width:32px;height:28px;line-height:28px;"><span style="display:inline-block;transform:translateY(0.6px) scaleX(1.0);transform-origin:center center;">0</span></div>
<div class="t d c" style="left:662px;top:150px;width:37px;height:28px;line-height:28px;"><span style="display:inline-block;transform:translateY(0.6px) scaleX(1.0);transform-origin:center center;">1</span></div>
<div class="t d c" style="left:700px;top:150px;width:41px;height:28px;line-height:28px;"><span style="display:inline-block;transform:translateY(0.6px) scaleX(1.0);transform-origin:center center;">14</span></div>
<div class="t d b c" style="left:742px;top:150px;width:34px;height:28px;line-height:28px;"><span style="display:inline-block;transform:translateY(0.6px) scaleX(1.06);transform-origin:center center;">0</span></div>
<div class="t d c" style="left:777px;top:150px;width:34px;height:28px;line-height:28px;"><span style="display:inline-block;transform:translateY(0.6px) scaleX(1.0);transform-origin:center center;">3</span></div>
<div class="t d c" style="left:812px;top:150px;width:36px;height:28px;line-height:28px;"><span style="display:inline-block;transform:translateY(0.6px) scaleX(1.0);transform-origin:center center;">0</span></div>
<div class="t d c" style="left:849px;top:150px;width:57px;height:28px;line-height:28px;"><span style="display:inline-block;transform:translateY(0.6px) scaleX(1.0);transform-origin:center center;">.250</span></div>
<div class="t d c" style="left:907px;top:150px;width:57px;height:28px;line-height:28px;"><span style="display:inline-block;transform:translateY(0.6px) scaleX(1.0);transform-origin:center center;">.270</span></div>
<div class="t d c" style="left:965px;top:150px;width:57px;height:28px;line-height:28px;"><span style="display:inline-block;transform:translateY(0.6px) scaleX(1.0);transform-origin:center center;">.333</span></div>
<div class="t d c" style="left:1023px;top:150px;width:56px;height:28px;line-height:28px;"><span style="display:inline-block;transform:translateY(0.6px) scaleX(1.0);transform-origin:center center;">.604</span></div>
<div class="t d c" style="left:9px;top:179px;width:34px;height:27px;line-height:27px;"><span style="display:inline-block;transform:translateY(0.6px) scaleX(1.0);transform-origin:center center;">13</span></div>
<div class="t d nm l" style="left:44px;top:179px;width:104px;height:27px;line-height:27px;"><span style="display:inline-block;transform:translateY(1.6px) scaleX(1.05);transform-origin:left center;">Veillon</span></div>
<div class="t d c" style="left:149px;top:179px;width:30px;height:27px;line-height:27px;"><span style="display:inline-block;transform:translateY(0.6px) scaleX(1.0);transform-origin:center center;">16</span></div>
<div class="t d c" style="left:180px;top:179px;width:40px;height:27px;line-height:27px;"><span style="display:inline-block;transform:translateY(0.6px) scaleX(1.0);transform-origin:center center;">8</span></div>
<div class="t d c" style="left:221px;top:179px;width:42px;height:27px;line-height:27px;"><span style="display:inline-block;transform:translateY(0.6px) scaleX(1.0);transform-origin:center center;">30</span></div>
<div class="t d c" style="left:264px;top:179px;width:40px;height:27px;line-height:27px;"><span style="display:inline-block;transform:translateY(0.6px) scaleX(1.0);transform-origin:center center;">7</span></div>
<div class="t d c" style="left:305px;top:179px;width:40px;height:27px;line-height:27px;"><span style="display:inline-block;transform:translateY(0.6px) scaleX(1.0);transform-origin:center center;">3</span></div>
<div class="t d c" style="left:346px;top:179px;width:40px;height:27px;line-height:27px;"><span style="display:inline-block;transform:translateY(0.6px) scaleX(1.0);transform-origin:center center;">2</span></div>
<div class="t d c" style="left:387px;top:179px;width:36px;height:27px;line-height:27px;"><span style="display:inline-block;transform:translateY(0.6px) scaleX(1.0);transform-origin:center center;">0</span></div>
<div class="t d c" style="left:424px;top:179px;width:40px;height:27px;line-height:27px;"><span style="display:inline-block;transform:translateY(0.6px) scaleX(1.0);transform-origin:center center;">15</span></div>
<div class="t d c" style="left:465px;top:179px;width:40px;height:27px;line-height:27px;"><span style="display:inline-block;transform:translateY(0.6px) scaleX(1.0);transform-origin:center center;">2</span></div>
<div class="t d c" style="left:506px;top:179px;width:38px;height:27px;line-height:27px;"><span style="display:inline-block;transform:translateY(0.6px) scaleX(1.0);transform-origin:center center;">7</span></div>
<div class="t d c" style="left:545px;top:179px;width:41px;height:27px;line-height:27px;"><span style="display:inline-block;transform:translateY(0.6px) scaleX(1.0);transform-origin:center center;">6</span></div>
<div class="t d c" style="left:587px;top:179px;width:41px;height:27px;line-height:27px;"><span style="display:inline-block;transform:translateY(0.6px) scaleX(1.0);transform-origin:center center;">2</span></div>
<div class="t d c" style="left:629px;top:179px;width:32px;height:27px;line-height:27px;"><span style="display:inline-block;transform:translateY(0.6px) scaleX(1.0);transform-origin:center center;">1</span></div>
<div class="t d c" style="left:662px;top:179px;width:37px;height:27px;line-height:27px;"><span style="display:inline-block;transform:translateY(0.6px) scaleX(1.0);transform-origin:center center;">0</span></div>
<div class="t d c" style="left:700px;top:179px;width:41px;height:27px;line-height:27px;"><span style="display:inline-block;transform:translateY(0.6px) scaleX(1.0);transform-origin:center center;">10</span></div>
<div class="t d b c" style="left:742px;top:179px;width:34px;height:27px;line-height:27px;"><span style="display:inline-block;transform:translateY(0.6px) scaleX(1.06);transform-origin:center center;">1</span></div>
<div class="t d c" style="left:777px;top:179px;width:34px;height:27px;line-height:27px;"><span style="display:inline-block;transform:translateY(0.6px) scaleX(1.0);transform-origin:center center;">2</span></div>
<div class="t d c" style="left:812px;top:179px;width:36px;height:27px;line-height:27px;"><span style="display:inline-block;transform:translateY(0.6px) scaleX(1.0);transform-origin:center center;">1</span></div>
<div class="t d c" style="left:849px;top:179px;width:57px;height:27px;line-height:27px;"><span style="display:inline-block;transform:translateY(0.6px) scaleX(1.0);transform-origin:center center;">.233</span></div>
<div class="t d c" style="left:907px;top:179px;width:57px;height:27px;line-height:27px;"><span style="display:inline-block;transform:translateY(0.6px) scaleX(1.0);transform-origin:center center;">.385</span></div>
<div class="t d c" style="left:965px;top:179px;width:57px;height:27px;line-height:27px;"><span style="display:inline-block;transform:translateY(0.6px) scaleX(1.0);transform-origin:center center;">.500</span></div>
<div class="t d c" style="left:1023px;top:179px;width:56px;height:27px;line-height:27px;"><span style="display:inline-block;transform:translateY(0.6px) scaleX(1.0);transform-origin:center center;">.885</span></div>
<div class="t d c" style="left:9px;top:207px;width:34px;height:27px;line-height:27px;"><span style="display:inline-block;transform:translateY(0.6px) scaleX(1.0);transform-origin:center center;">14</span></div>
<div class="t d nm l" style="left:44px;top:207px;width:104px;height:27px;line-height:27px;"><span style="display:inline-block;transform:translateY(1.6px) scaleX(1.05);transform-origin:left center;">Brandon</span></div>
<div class="t d c" style="left:149px;top:207px;width:30px;height:27px;line-height:27px;"><span style="display:inline-block;transform:translateY(0.6px) scaleX(1.0);transform-origin:center center;">20</span></div>
<div class="t d c" style="left:180px;top:207px;width:40px;height:27px;line-height:27px;"><span style="display:inline-block;transform:translateY(0.6px) scaleX(1.0);transform-origin:center center;">8</span></div>
<div class="t d c" style="left:221px;top:207px;width:42px;height:27px;line-height:27px;"><span style="display:inline-block;transform:translateY(0.6px) scaleX(1.0);transform-origin:center center;">49</span></div>
<div class="t d c" style="left:264px;top:207px;width:40px;height:27px;line-height:27px;"><span style="display:inline-block;transform:translateY(0.6px) scaleX(1.0);transform-origin:center center;">15</span></div>
<div class="t d c" style="left:305px;top:207px;width:40px;height:27px;line-height:27px;"><span style="display:inline-block;transform:translateY(0.6px) scaleX(1.0);transform-origin:center center;">12</span></div>
<div class="t d c" style="left:346px;top:207px;width:40px;height:27px;line-height:27px;"><span style="display:inline-block;transform:translateY(0.6px) scaleX(1.0);transform-origin:center center;">1</span></div>
<div class="t d c" style="left:387px;top:207px;width:36px;height:27px;line-height:27px;"><span style="display:inline-block;transform:translateY(0.6px) scaleX(1.0);transform-origin:center center;">2</span></div>
<div class="t d c" style="left:424px;top:207px;width:40px;height:27px;line-height:27px;"><span style="display:inline-block;transform:translateY(0.6px) scaleX(1.0);transform-origin:center center;">20</span></div>
<div class="t d c" style="left:465px;top:207px;width:40px;height:27px;line-height:27px;"><span style="display:inline-block;transform:translateY(0.6px) scaleX(1.0);transform-origin:center center;">0</span></div>
<div class="t d c" style="left:506px;top:207px;width:38px;height:27px;line-height:27px;"><span style="display:inline-block;transform:translateY(0.6px) scaleX(1.0);transform-origin:center center;">5</span></div>
<div class="t d c" style="left:545px;top:207px;width:41px;height:27px;line-height:27px;"><span style="display:inline-block;transform:translateY(0.6px) scaleX(1.0);transform-origin:center center;">5</span></div>
<div class="t d c" style="left:587px;top:207px;width:41px;height:27px;line-height:27px;"><span style="display:inline-block;transform:translateY(0.6px) scaleX(1.0);transform-origin:center center;">2</span></div>
<div class="t d c" style="left:629px;top:207px;width:32px;height:27px;line-height:27px;"><span style="display:inline-block;transform:translateY(0.6px) scaleX(1.0);transform-origin:center center;">0</span></div>
<div class="t d c" style="left:662px;top:207px;width:37px;height:27px;line-height:27px;"><span style="display:inline-block;transform:translateY(0.6px) scaleX(1.0);transform-origin:center center;">0</span></div>
<div class="t d c" style="left:700px;top:207px;width:41px;height:27px;line-height:27px;"><span style="display:inline-block;transform:translateY(0.6px) scaleX(1.0);transform-origin:center center;">9</span></div>
<div class="t d c" style="left:742px;top:207px;width:34px;height:27px;line-height:27px;"><span style="display:inline-block;transform:translateY(0.6px) scaleX(1.0);transform-origin:center center;">3</span></div>
<div class="t d c" style="left:777px;top:207px;width:34px;height:27px;line-height:27px;"><span style="display:inline-block;transform:translateY(0.6px) scaleX(1.0);transform-origin:center center;">0</span></div>
<div class="t d c" style="left:812px;top:207px;width:36px;height:27px;line-height:27px;"><span style="display:inline-block;transform:translateY(0.6px) scaleX(1.0);transform-origin:center center;">0</span></div>
<div class="t d c" style="left:849px;top:207px;width:57px;height:27px;line-height:27px;"><span style="display:inline-block;transform:translateY(0.6px) scaleX(1.0);transform-origin:center center;">.306</span></div>
<div class="t d c" style="left:907px;top:207px;width:57px;height:27px;line-height:27px;"><span style="display:inline-block;transform:translateY(0.6px) scaleX(1.0);transform-origin:center center;">.393</span></div>
<div class="t d c" style="left:965px;top:207px;width:57px;height:27px;line-height:27px;"><span style="display:inline-block;transform:translateY(0.6px) scaleX(1.0);transform-origin:center center;">.408</span></div>
<div class="t d c" style="left:1023px;top:207px;width:56px;height:27px;line-height:27px;"><span style="display:inline-block;transform:translateY(0.6px) scaleX(1.0);transform-origin:center center;">.801</span></div>
<div class="t d c" style="left:9px;top:235px;width:34px;height:28px;line-height:28px;"><span style="display:inline-block;transform:translateY(0.6px) scaleX(1.0);transform-origin:center center;">18</span></div>
<div class="t d nm l" style="left:44px;top:235px;width:104px;height:28px;line-height:28px;"><span style="display:inline-block;transform:translateY(1.6px) scaleX(1.05);transform-origin:left center;">Rincones</span></div>
<div class="t d c" style="left:149px;top:235px;width:30px;height:28px;line-height:28px;"><span style="display:inline-block;transform:translateY(0.6px) scaleX(1.0);transform-origin:center center;">24</span></div>
<div class="t d c" style="left:180px;top:235px;width:40px;height:28px;line-height:28px;"><span style="display:inline-block;transform:translateY(0.6px) scaleX(1.0);transform-origin:center center;">3</span></div>
<div class="t d c" style="left:221px;top:235px;width:42px;height:28px;line-height:28px;"><span style="display:inline-block;transform:translateY(0.6px) scaleX(1.0);transform-origin:center center;">47</span></div>
<div class="t d c" style="left:264px;top:235px;width:40px;height:28px;line-height:28px;"><span style="display:inline-block;transform:translateY(0.6px) scaleX(1.0);transform-origin:center center;">6</span></div>
<div class="t d c" style="left:305px;top:235px;width:40px;height:28px;line-height:28px;"><span style="display:inline-block;transform:translateY(0.6px) scaleX(1.0);transform-origin:center center;">5</span></div>
<div class="t d c" style="left:346px;top:235px;width:40px;height:28px;line-height:28px;"><span style="display:inline-block;transform:translateY(0.6px) scaleX(1.0);transform-origin:center center;">1</span></div>
<div class="t d c" style="left:387px;top:235px;width:36px;height:28px;line-height:28px;"><span style="display:inline-block;transform:translateY(0.6px) scaleX(1.0);transform-origin:center center;">0</span></div>
<div class="t d c" style="left:424px;top:235px;width:40px;height:28px;line-height:28px;"><span style="display:inline-block;transform:translateY(0.6px) scaleX(1.0);transform-origin:center center;">7</span></div>
<div class="t d c" style="left:465px;top:235px;width:40px;height:28px;line-height:28px;"><span style="display:inline-block;transform:translateY(0.6px) scaleX(1.0);transform-origin:center center;">0</span></div>
<div class="t d c" style="left:506px;top:235px;width:38px;height:28px;line-height:28px;"><span style="display:inline-block;transform:translateY(0.6px) scaleX(1.0);transform-origin:center center;">5</span></div>
<div class="t d c" style="left:545px;top:235px;width:41px;height:28px;line-height:28px;"><span style="display:inline-block;transform:translateY(0.6px) scaleX(1.0);transform-origin:center center;">3</span></div>
<div class="t d c" style="left:587px;top:235px;width:41px;height:28px;line-height:28px;"><span style="display:inline-block;transform:translateY(0.6px) scaleX(1.0);transform-origin:center center;">1</span></div>
<div class="t d c" style="left:629px;top:235px;width:32px;height:28px;line-height:28px;"><span style="display:inline-block;transform:translateY(0.6px) scaleX(1.0);transform-origin:center center;">1</span></div>
<div class="t d c" style="left:662px;top:235px;width:37px;height:28px;line-height:28px;"><span style="display:inline-block;transform:translateY(0.6px) scaleX(1.0);transform-origin:center center;">2</span></div>
<div class="t d c" style="left:700px;top:235px;width:41px;height:28px;line-height:28px;"><span style="display:inline-block;transform:translateY(0.6px) scaleX(1.0);transform-origin:center center;">12</span></div>
<div class="t d b c" style="left:742px;top:235px;width:34px;height:28px;line-height:28px;"><span style="display:inline-block;transform:translateY(0.6px) scaleX(1.06);transform-origin:center center;">1</span></div>
<div class="t d c" style="left:777px;top:235px;width:34px;height:28px;line-height:28px;"><span style="display:inline-block;transform:translateY(0.6px) scaleX(1.0);transform-origin:center center;">2</span></div>
<div class="t d c" style="left:812px;top:235px;width:36px;height:28px;line-height:28px;"><span style="display:inline-block;transform:translateY(0.6px) scaleX(1.0);transform-origin:center center;">0</span></div>
<div class="t d c" style="left:849px;top:235px;width:57px;height:28px;line-height:28px;"><span style="display:inline-block;transform:translateY(0.6px) scaleX(1.0);transform-origin:center center;">.128</span></div>
<div class="t d c" style="left:907px;top:235px;width:57px;height:28px;line-height:28px;"><span style="display:inline-block;transform:translateY(0.6px) scaleX(1.0);transform-origin:center center;">.192</span></div>
<div class="t d c" style="left:965px;top:235px;width:57px;height:28px;line-height:28px;"><span style="display:inline-block;transform:translateY(0.6px) scaleX(1.0);transform-origin:center center;">.149</span></div>
<div class="t d c" style="left:1023px;top:235px;width:56px;height:28px;line-height:28px;"><span style="display:inline-block;transform:translateY(0.6px) scaleX(1.0);transform-origin:center center;">.341</span></div>
<div class="t d c" style="left:9px;top:264px;width:34px;height:27px;line-height:27px;"><span style="display:inline-block;transform:translateY(0.6px) scaleX(1.0);transform-origin:center center;">20</span></div>
<div class="t d nm l" style="left:44px;top:264px;width:104px;height:27px;line-height:27px;"><span style="display:inline-block;transform:translateY(1.6px) scaleX(1.05);transform-origin:left center;">Robertson</span></div>
<div class="t d b c" style="left:149px;top:264px;width:30px;height:27px;line-height:27px;"><span style="display:inline-block;transform:translateY(0.6px) scaleX(1.06);transform-origin:center center;">28</span></div>
<div class="t d b c" style="left:180px;top:264px;width:40px;height:27px;line-height:27px;"><span style="display:inline-block;transform:translateY(0.6px) scaleX(1.06);transform-origin:center center;">24</span></div>
<div class="t d c" style="left:221px;top:264px;width:42px;height:27px;line-height:27px;"><span style="display:inline-block;transform:translateY(0.6px) scaleX(1.0);transform-origin:center center;">104</span></div>
<div class="t d c" style="left:264px;top:264px;width:40px;height:27px;line-height:27px;"><span style="display:inline-block;transform:translateY(0.6px) scaleX(1.0);transform-origin:center center;">37</span></div>
<div class="t d c" style="left:305px;top:264px;width:40px;height:27px;line-height:27px;"><span style="display:inline-block;transform:translateY(0.6px) scaleX(1.0);transform-origin:center center;">23</span></div>
<div class="t d c" style="left:346px;top:264px;width:40px;height:27px;line-height:27px;"><span style="display:inline-block;transform:translateY(0.6px) scaleX(1.0);transform-origin:center center;">9</span></div>
<div class="t d c" style="left:387px;top:264px;width:36px;height:27px;line-height:27px;"><span style="display:inline-block;transform:translateY(0.6px) scaleX(1.0);transform-origin:center center;">2</span></div>
<div class="t d c" style="left:424px;top:264px;width:40px;height:27px;line-height:27px;"><span style="display:inline-block;transform:translateY(0.6px) scaleX(1.0);transform-origin:center center;">59</span></div>
<div class="t d c" style="left:465px;top:264px;width:40px;height:27px;line-height:27px;"><span style="display:inline-block;transform:translateY(0.6px) scaleX(1.0);transform-origin:center center;">3</span></div>
<div class="t d c" style="left:506px;top:264px;width:38px;height:27px;line-height:27px;"><span style="display:inline-block;transform:translateY(0.6px) scaleX(1.0);transform-origin:center center;">24</span></div>
<div class="t d c" style="left:545px;top:264px;width:41px;height:27px;line-height:27px;"><span style="display:inline-block;transform:translateY(0.6px) scaleX(1.0);transform-origin:center center;">11</span></div>
<div class="t d c" style="left:587px;top:264px;width:41px;height:27px;line-height:27px;"><span style="display:inline-block;transform:translateY(0.6px) scaleX(1.0);transform-origin:center center;">6</span></div>
<div class="t d c" style="left:629px;top:264px;width:32px;height:27px;line-height:27px;"><span style="display:inline-block;transform:translateY(0.6px) scaleX(1.0);transform-origin:center center;">0</span></div>
<div class="t d c" style="left:662px;top:264px;width:37px;height:27px;line-height:27px;"><span style="display:inline-block;transform:translateY(0.6px) scaleX(1.0);transform-origin:center center;">2</span></div>
<div class="t d c" style="left:700px;top:264px;width:41px;height:27px;line-height:27px;"><span style="display:inline-block;transform:translateY(0.6px) scaleX(1.0);transform-origin:center center;">18</span></div>
<div class="t d c" style="left:742px;top:264px;width:34px;height:27px;line-height:27px;"><span style="display:inline-block;transform:translateY(0.6px) scaleX(1.0);transform-origin:center center;">3</span></div>
<div class="t d b c" style="left:777px;top:264px;width:34px;height:27px;line-height:27px;"><span style="display:inline-block;transform:translateY(0.6px) scaleX(1.06);transform-origin:center center;">13</span></div>
<div class="t d c" style="left:812px;top:264px;width:36px;height:27px;line-height:27px;"><span style="display:inline-block;transform:translateY(0.6px) scaleX(1.0);transform-origin:center center;">0</span></div>
<div class="t d c" style="left:849px;top:264px;width:57px;height:27px;line-height:27px;"><span style="display:inline-block;transform:translateY(0.6px) scaleX(1.0);transform-origin:center center;">.356</span></div>
<div class="t d b c" style="left:907px;top:264px;width:57px;height:27px;line-height:27px;"><span style="display:inline-block;transform:translateY(0.6px) scaleX(1.06);transform-origin:center center;">.446</span></div>
<div class="t d c" style="left:965px;top:264px;width:57px;height:27px;line-height:27px;"><span style="display:inline-block;transform:translateY(0.6px) scaleX(1.0);transform-origin:center center;">.567</span></div>
<div class="t d b c" style="left:1023px;top:264px;width:56px;height:27px;line-height:27px;"><span style="display:inline-block;transform:translateY(0.6px) scaleX(1.06);transform-origin:center center;">1.014</span></div>
<div class="t d c" style="left:9px;top:292px;width:34px;height:28px;line-height:28px;"><span style="display:inline-block;transform:translateY(0.6px) scaleX(1.0);transform-origin:center center;">21</span></div>
<div class="t d nm l" style="left:44px;top:292px;width:104px;height:28px;line-height:28px;"><span style="display:inline-block;transform:translateY(1.6px) scaleX(1.05);transform-origin:left center;">Kimple</span></div>
<div class="t d b c" style="left:149px;top:292px;width:30px;height:28px;line-height:28px;"><span style="display:inline-block;transform:translateY(0.6px) scaleX(1.06);transform-origin:center center;">28</span></div>
<div class="t d b c" style="left:180px;top:292px;width:40px;height:28px;line-height:28px;"><span style="display:inline-block;transform:translateY(0.6px) scaleX(1.06);transform-origin:center center;">24</span></div>
<div class="t d b c" style="left:221px;top:292px;width:42px;height:28px;line-height:28px;"><span style="display:inline-block;transform:translateY(0.6px) scaleX(1.06);transform-origin:center center;">107</span></div>
<div class="t d c" style="left:264px;top:292px;width:40px;height:28px;line-height:28px;"><span style="display:inline-block;transform:translateY(0.6px) scaleX(1.0);transform-origin:center center;">36</span></div>
<div class="t d c" style="left:305px;top:292px;width:40px;height:28px;line-height:28px;"><span style="display:inline-block;transform:translateY(0.6px) scaleX(1.0);transform-origin:center center;">22</span></div>
<div class="t d c" style="left:346px;top:292px;width:40px;height:28px;line-height:28px;"><span style="display:inline-block;transform:translateY(0.6px) scaleX(1.0);transform-origin:center center;">6</span></div>
<div class="t d c" style="left:387px;top:292px;width:36px;height:28px;line-height:28px;"><span style="display:inline-block;transform:translateY(0.6px) scaleX(1.0);transform-origin:center center;">3</span></div>
<div class="t d b c" style="left:424px;top:292px;width:40px;height:28px;line-height:28px;"><span style="display:inline-block;transform:translateY(0.6px) scaleX(1.06);transform-origin:center center;">63</span></div>
<div class="t d c" style="left:465px;top:292px;width:40px;height:28px;line-height:28px;"><span style="display:inline-block;transform:translateY(0.6px) scaleX(1.0);transform-origin:center center;">5</span></div>
<div class="t d c" style="left:506px;top:292px;width:38px;height:28px;line-height:28px;"><span style="display:inline-block;transform:translateY(0.6px) scaleX(1.0);transform-origin:center center;">16</span></div>
<div class="t d c" style="left:545px;top:292px;width:41px;height:28px;line-height:28px;"><span style="display:inline-block;transform:translateY(0.6px) scaleX(1.0);transform-origin:center center;">12</span></div>
<div class="t d c" style="left:587px;top:292px;width:41px;height:28px;line-height:28px;"><span style="display:inline-block;transform:translateY(0.6px) scaleX(1.0);transform-origin:center center;">2</span></div>
<div class="t d c" style="left:629px;top:292px;width:32px;height:28px;line-height:28px;"><span style="display:inline-block;transform:translateY(0.6px) scaleX(1.0);transform-origin:center center;">2</span></div>
<div class="t d c" style="left:662px;top:292px;width:37px;height:28px;line-height:28px;"><span style="display:inline-block;transform:translateY(0.6px) scaleX(1.0);transform-origin:center center;">0</span></div>
<div class="t d c" style="left:700px;top:292px;width:41px;height:28px;line-height:28px;"><span style="display:inline-block;transform:translateY(0.6px) scaleX(1.0);transform-origin:center center;">35</span></div>
<div class="t d c" style="left:742px;top:292px;width:34px;height:28px;line-height:28px;"><span style="display:inline-block;transform:translateY(0.6px) scaleX(1.0);transform-origin:center center;">2</span></div>
<div class="t d c" style="left:777px;top:292px;width:34px;height:28px;line-height:28px;"><span style="display:inline-block;transform:translateY(0.6px) scaleX(1.0);transform-origin:center center;">2</span></div>
<div class="t d c" style="left:812px;top:292px;width:36px;height:28px;line-height:28px;"><span style="display:inline-block;transform:translateY(0.6px) scaleX(1.0);transform-origin:center center;">1</span></div>
<div class="t d c" style="left:849px;top:292px;width:57px;height:28px;line-height:28px;"><span style="display:inline-block;transform:translateY(0.6px) scaleX(1.0);transform-origin:center center;">.336</span></div>
<div class="t d c" style="left:907px;top:292px;width:57px;height:28px;line-height:28px;"><span style="display:inline-block;transform:translateY(0.6px) scaleX(1.0);transform-origin:center center;">.407</span></div>
<div class="t d b c" style="left:965px;top:292px;width:57px;height:28px;line-height:28px;"><span style="display:inline-block;transform:translateY(0.6px) scaleX(1.06);transform-origin:center center;">.589</span></div>
<div class="t d c" style="left:1023px;top:292px;width:56px;height:28px;line-height:28px;"><span style="display:inline-block;transform:translateY(0.6px) scaleX(1.0);transform-origin:center center;">.995</span></div>
<div class="t d c" style="left:9px;top:321px;width:34px;height:27px;line-height:27px;"><span style="display:inline-block;transform:translateY(0.6px) scaleX(1.0);transform-origin:center center;">22</span></div>
<div class="t d nm l" style="left:44px;top:321px;width:104px;height:27px;line-height:27px;"><span style="display:inline-block;transform:translateY(1.6px) scaleX(1.05);transform-origin:left center;">Roccaforte</span></div>
<div class="t d c" style="left:149px;top:321px;width:30px;height:27px;line-height:27px;"><span style="display:inline-block;transform:translateY(0.6px) scaleX(1.0);transform-origin:center center;">27</span></div>
<div class="t d b c" style="left:180px;top:321px;width:40px;height:27px;line-height:27px;"><span style="display:inline-block;transform:translateY(0.6px) scaleX(1.06);transform-origin:center center;">28</span></div>
<div class="t d c" style="left:221px;top:321px;width:42px;height:27px;line-height:27px;"><span style="display:inline-block;transform:translateY(0.6px) scaleX(1.0);transform-origin:center center;">103</span></div>
<div class="t d b c" style="left:264px;top:321px;width:40px;height:27px;line-height:27px;"><span style="display:inline-block;transform:translateY(0.6px) scaleX(1.06);transform-origin:center center;">43</span></div>
<div class="t d b c" style="left:305px;top:321px;width:40px;height:27px;line-height:27px;"><span style="display:inline-block;transform:translateY(0.6px) scaleX(1.06);transform-origin:center center;">26</span></div>
<div class="t d c" style="left:346px;top:321px;width:40px;height:27px;line-height:27px;"><span style="display:inline-block;transform:translateY(0.6px) scaleX(1.0);transform-origin:center center;">7</span></div>
<div class="t d c" style="left:387px;top:321px;width:36px;height:27px;line-height:27px;"><span style="display:inline-block;transform:translateY(0.6px) scaleX(1.0);transform-origin:center center;">1</span></div>
<div class="t d b c" style="left:424px;top:321px;width:40px;height:27px;line-height:27px;"><span style="display:inline-block;transform:translateY(0.6px) scaleX(1.06);transform-origin:center center;">79</span></div>
<div class="t d c" style="left:465px;top:321px;width:40px;height:27px;line-height:27px;"><span style="display:inline-block;transform:translateY(0.6px) scaleX(1.0);transform-origin:center center;">9</span></div>
<div class="t d c" style="left:506px;top:321px;width:38px;height:27px;line-height:27px;"><span style="display:inline-block;transform:translateY(0.6px) scaleX(1.0);transform-origin:center center;">33</span></div>
<div class="t d c" style="left:545px;top:321px;width:41px;height:27px;line-height:27px;"><span style="display:inline-block;transform:translateY(0.6px) scaleX(1.0);transform-origin:center center;">15</span></div>
<div class="t d c" style="left:587px;top:321px;width:41px;height:27px;line-height:27px;"><span style="display:inline-block;transform:translateY(0.6px) scaleX(1.0);transform-origin:center center;">2</span></div>
<div class="t d c" style="left:629px;top:321px;width:32px;height:27px;line-height:27px;"><span style="display:inline-block;transform:translateY(0.6px) scaleX(1.0);transform-origin:center center;">2</span></div>
<div class="t d c" style="left:662px;top:321px;width:37px;height:27px;line-height:27px;"><span style="display:inline-block;transform:translateY(0.6px) scaleX(1.0);transform-origin:center center;">0</span></div>
<div class="t d c" style="left:700px;top:321px;width:41px;height:27px;line-height:27px;"><span style="display:inline-block;transform:translateY(0.6px) scaleX(1.0);transform-origin:center center;">15</span></div>
<div class="t d c" style="left:742px;top:321px;width:34px;height:27px;line-height:27px;"><span style="display:inline-block;transform:translateY(0.6px) scaleX(1.0);transform-origin:center center;">3</span></div>
<div class="t d b c" style="left:777px;top:321px;width:34px;height:27px;line-height:27px;"><span style="display:inline-block;transform:translateY(0.6px) scaleX(1.06);transform-origin:center center;">13</span></div>
<div class="t d b c" style="left:812px;top:321px;width:36px;height:27px;line-height:27px;"><span style="display:inline-block;transform:translateY(0.6px) scaleX(1.06);transform-origin:center center;">4</span></div>
<div class="t d b c" style="left:849px;top:321px;width:57px;height:27px;line-height:27px;"><span style="display:inline-block;transform:translateY(0.6px) scaleX(1.06);transform-origin:center center;">.417</span></div>
<div class="t d b c" style="left:907px;top:321px;width:57px;height:27px;line-height:27px;"><span style="display:inline-block;transform:translateY(0.6px) scaleX(1.06);transform-origin:center center;">.492</span></div>
<div class="t d b c" style="left:965px;top:321px;width:57px;height:27px;line-height:27px;"><span style="display:inline-block;transform:translateY(0.6px) scaleX(1.06);transform-origin:center center;">.767</span></div>
<div class="t d b c" style="left:1023px;top:321px;width:56px;height:27px;line-height:27px;"><span style="display:inline-block;transform:translateY(0.6px) scaleX(1.06);transform-origin:center center;">1.259</span></div>
<div class="t d c" style="left:9px;top:349px;width:34px;height:28px;line-height:28px;"><span style="display:inline-block;transform:translateY(0.6px) scaleX(1.0);transform-origin:center center;">24</span></div>
<div class="t d nm l" style="left:44px;top:349px;width:104px;height:28px;line-height:28px;"><span style="display:inline-block;transform:translateY(1.6px) scaleX(1.05);transform-origin:left center;">DeBarge</span></div>
<div class="t d b c" style="left:149px;top:349px;width:30px;height:28px;line-height:28px;"><span style="display:inline-block;transform:translateY(0.6px) scaleX(1.06);transform-origin:center center;">28</span></div>
<div class="t d c" style="left:180px;top:349px;width:40px;height:28px;line-height:28px;"><span style="display:inline-block;transform:translateY(0.6px) scaleX(1.0);transform-origin:center center;">18</span></div>
<div class="t d b c" style="left:221px;top:349px;width:42px;height:28px;line-height:28px;"><span style="display:inline-block;transform:translateY(0.6px) scaleX(1.06);transform-origin:center center;">110</span></div>
<div class="t d c" style="left:264px;top:349px;width:40px;height:28px;line-height:28px;"><span style="display:inline-block;transform:translateY(0.6px) scaleX(1.0);transform-origin:center center;">36</span></div>
<div class="t d b c" style="left:305px;top:349px;width:40px;height:28px;line-height:28px;"><span style="display:inline-block;transform:translateY(0.6px) scaleX(1.06);transform-origin:center center;">26</span></div>
<div class="t d c" style="left:346px;top:349px;width:40px;height:28px;line-height:28px;"><span style="display:inline-block;transform:translateY(0.6px) scaleX(1.0);transform-origin:center center;">9</span></div>
<div class="t d c" style="left:387px;top:349px;width:36px;height:28px;line-height:28px;"><span style="display:inline-block;transform:translateY(0.6px) scaleX(1.0);transform-origin:center center;">0</span></div>
<div class="t d c" style="left:424px;top:349px;width:40px;height:28px;line-height:28px;"><span style="display:inline-block;transform:translateY(0.6px) scaleX(1.0);transform-origin:center center;">48</span></div>
<div class="t d c" style="left:465px;top:349px;width:40px;height:28px;line-height:28px;"><span style="display:inline-block;transform:translateY(0.6px) scaleX(1.0);transform-origin:center center;">1</span></div>
<div class="t d c" style="left:506px;top:349px;width:38px;height:28px;line-height:28px;"><span style="display:inline-block;transform:translateY(0.6px) scaleX(1.0);transform-origin:center center;">15</span></div>
<div class="t d c" style="left:545px;top:349px;width:41px;height:28px;line-height:28px;"><span style="display:inline-block;transform:translateY(0.6px) scaleX(1.0);transform-origin:center center;">8</span></div>
<div class="t d c" style="left:587px;top:349px;width:41px;height:28px;line-height:28px;"><span style="display:inline-block;transform:translateY(0.6px) scaleX(1.0);transform-origin:center center;">1</span></div>
<div class="t d c" style="left:629px;top:349px;width:32px;height:28px;line-height:28px;"><span style="display:inline-block;transform:translateY(0.6px) scaleX(1.0);transform-origin:center center;">3</span></div>
<div class="t d c" style="left:662px;top:349px;width:37px;height:28px;line-height:28px;"><span style="display:inline-block;transform:translateY(0.6px) scaleX(1.0);transform-origin:center center;">2</span></div>
<div class="t d c" style="left:700px;top:349px;width:41px;height:28px;line-height:28px;"><span style="display:inline-block;transform:translateY(0.6px) scaleX(1.0);transform-origin:center center;">12</span></div>
<div class="t d b c" style="left:742px;top:349px;width:34px;height:28px;line-height:28px;"><span style="display:inline-block;transform:translateY(0.6px) scaleX(1.06);transform-origin:center center;">0</span></div>
<div class="t d c" style="left:777px;top:349px;width:34px;height:28px;line-height:28px;"><span style="display:inline-block;transform:translateY(0.6px) scaleX(1.0);transform-origin:center center;">12</span></div>
<div class="t d c" style="left:812px;top:349px;width:36px;height:28px;line-height:28px;"><span style="display:inline-block;transform:translateY(0.6px) scaleX(1.0);transform-origin:center center;">0</span></div>
<div class="t d c" style="left:849px;top:349px;width:57px;height:28px;line-height:28px;"><span style="display:inline-block;transform:translateY(0.6px) scaleX(1.0);transform-origin:center center;">.327</span></div>
<div class="t d c" style="left:907px;top:349px;width:57px;height:28px;line-height:28px;"><span style="display:inline-block;transform:translateY(0.6px) scaleX(1.0);transform-origin:center center;">.369</span></div>
<div class="t d c" style="left:965px;top:349px;width:57px;height:28px;line-height:28px;"><span style="display:inline-block;transform:translateY(0.6px) scaleX(1.0);transform-origin:center center;">.436</span></div>
<div class="t d c" style="left:1023px;top:349px;width:56px;height:28px;line-height:28px;"><span style="display:inline-block;transform:translateY(0.6px) scaleX(1.0);transform-origin:center center;">.805</span></div>
<div class="t d c" style="left:9px;top:378px;width:34px;height:27px;line-height:27px;"><span style="display:inline-block;transform:translateY(0.6px) scaleX(1.0);transform-origin:center center;">44</span></div>
<div class="t d nm l" style="left:44px;top:378px;width:104px;height:27px;line-height:27px;"><span style="display:inline-block;transform:translateY(1.6px) scaleX(1.05);transform-origin:left center;">Willis</span></div>
<div class="t d c" style="left:149px;top:378px;width:30px;height:27px;line-height:27px;"><span style="display:inline-block;transform:translateY(0.6px) scaleX(1.0);transform-origin:center center;">19</span></div>
<div class="t d c" style="left:180px;top:378px;width:40px;height:27px;line-height:27px;"><span style="display:inline-block;transform:translateY(0.6px) scaleX(1.0);transform-origin:center center;">6</span></div>
<div class="t d c" style="left:221px;top:378px;width:42px;height:27px;line-height:27px;"><span style="display:inline-block;transform:translateY(0.6px) scaleX(1.0);transform-origin:center center;">32</span></div>
<div class="t d c" style="left:264px;top:378px;width:40px;height:27px;line-height:27px;"><span style="display:inline-block;transform:translateY(0.6px) scaleX(1.0);transform-origin:center center;">8</span></div>
<div class="t d c" style="left:305px;top:378px;width:40px;height:27px;line-height:27px;"><span style="display:inline-block;transform:translateY(0.6px) scaleX(1.0);transform-origin:center center;">5</span></div>
<div class="t d c" style="left:346px;top:378px;width:40px;height:27px;line-height:27px;"><span style="display:inline-block;transform:translateY(0.6px) scaleX(1.0);transform-origin:center center;">2</span></div>
<div class="t d c" style="left:387px;top:378px;width:36px;height:27px;line-height:27px;"><span style="display:inline-block;transform:translateY(0.6px) scaleX(1.0);transform-origin:center center;">1</span></div>
<div class="t d c" style="left:424px;top:378px;width:40px;height:27px;line-height:27px;"><span style="display:inline-block;transform:translateY(0.6px) scaleX(1.0);transform-origin:center center;">12</span></div>
<div class="t d c" style="left:465px;top:378px;width:40px;height:27px;line-height:27px;"><span style="display:inline-block;transform:translateY(0.6px) scaleX(1.0);transform-origin:center center;">0</span></div>
<div class="t d c" style="left:506px;top:378px;width:38px;height:27px;line-height:27px;"><span style="display:inline-block;transform:translateY(0.6px) scaleX(1.0);transform-origin:center center;">3</span></div>
<div class="t d c" style="left:545px;top:378px;width:41px;height:27px;line-height:27px;"><span style="display:inline-block;transform:translateY(0.6px) scaleX(1.0);transform-origin:center center;">6</span></div>
<div class="t d c" style="left:587px;top:378px;width:41px;height:27px;line-height:27px;"><span style="display:inline-block;transform:translateY(0.6px) scaleX(1.0);transform-origin:center center;">1</span></div>
<div class="t d c" style="left:629px;top:378px;width:32px;height:27px;line-height:27px;"><span style="display:inline-block;transform:translateY(0.6px) scaleX(1.0);transform-origin:center center;">0</span></div>
<div class="t d c" style="left:662px;top:378px;width:37px;height:27px;line-height:27px;"><span style="display:inline-block;transform:translateY(0.6px) scaleX(1.0);transform-origin:center center;">1</span></div>
<div class="t d c" style="left:700px;top:378px;width:41px;height:27px;line-height:27px;"><span style="display:inline-block;transform:translateY(0.6px) scaleX(1.0);transform-origin:center center;">13</span></div>
<div class="t d b c" style="left:742px;top:378px;width:34px;height:27px;line-height:27px;"><span style="display:inline-block;transform:translateY(0.6px) scaleX(1.06);transform-origin:center center;">1</span></div>
<div class="t d c" style="left:777px;top:378px;width:34px;height:27px;line-height:27px;"><span style="display:inline-block;transform:translateY(0.6px) scaleX(1.0);transform-origin:center center;">1</span></div>
<div class="t d c" style="left:812px;top:378px;width:36px;height:27px;line-height:27px;"><span style="display:inline-block;transform:translateY(0.6px) scaleX(1.0);transform-origin:center center;">0</span></div>
<div class="t d c" style="left:849px;top:378px;width:57px;height:27px;line-height:27px;"><span style="display:inline-block;transform:translateY(0.6px) scaleX(1.0);transform-origin:center center;">.250</span></div>
<div class="t d c" style="left:907px;top:378px;width:57px;height:27px;line-height:27px;"><span style="display:inline-block;transform:translateY(0.6px) scaleX(1.0);transform-origin:center center;">.385</span></div>
<div class="t d c" style="left:965px;top:378px;width:57px;height:27px;line-height:27px;"><span style="display:inline-block;transform:translateY(0.6px) scaleX(1.0);transform-origin:center center;">.375</span></div>
<div class="t d c" style="left:1023px;top:378px;width:56px;height:27px;line-height:27px;"><span style="display:inline-block;transform:translateY(0.6px) scaleX(1.0);transform-origin:center center;">.760</span></div>
<div class="t d c" style="left:9px;top:406px;width:34px;height:28px;line-height:28px;"><span style="display:inline-block;transform:translateY(0.6px) scaleX(1.0);transform-origin:center center;">30</span></div>
<div class="t d nm l" style="left:44px;top:406px;width:104px;height:28px;line-height:28px;"><span style="display:inline-block;transform:translateY(1.6px) scaleX(1.05);transform-origin:left center;">Garrett</span></div>
<div class="t d c" style="left:149px;top:406px;width:30px;height:28px;line-height:28px;"><span style="display:inline-block;transform:translateY(0.6px) scaleX(1.0);transform-origin:center center;">5</span></div>
<div class="t d c" style="left:180px;top:406px;width:40px;height:28px;line-height:28px;"><span style="display:inline-block;transform:translateY(0.6px) scaleX(1.0);transform-origin:center center;">2</span></div>
<div class="t d c" style="left:221px;top:406px;width:42px;height:28px;line-height:28px;"><span style="display:inline-block;transform:translateY(0.6px) scaleX(1.0);transform-origin:center center;">8</span></div>
<div class="t d c" style="left:264px;top:406px;width:40px;height:28px;line-height:28px;"><span style="display:inline-block;transform:translateY(0.6px) scaleX(1.0);transform-origin:center center;">1</span></div>
<div class="t d c" style="left:305px;top:406px;width:40px;height:28px;line-height:28px;"><span style="display:inline-block;transform:translateY(0.6px) scaleX(1.0);transform-origin:center center;">1</span></div>
<div class="t d c" style="left:346px;top:406px;width:40px;height:28px;line-height:28px;"><span style="display:inline-block;transform:translateY(0.6px) scaleX(1.0);transform-origin:center center;">0</span></div>
<div class="t d c" style="left:387px;top:406px;width:36px;height:28px;line-height:28px;"><span style="display:inline-block;transform:translateY(0.6px) scaleX(1.0);transform-origin:center center;">0</span></div>
<div class="t d c" style="left:424px;top:406px;width:40px;height:28px;line-height:28px;"><span style="display:inline-block;transform:translateY(0.6px) scaleX(1.0);transform-origin:center center;">1</span></div>
<div class="t d c" style="left:465px;top:406px;width:40px;height:28px;line-height:28px;"><span style="display:inline-block;transform:translateY(0.6px) scaleX(1.0);transform-origin:center center;">0</span></div>
<div class="t d c" style="left:506px;top:406px;width:38px;height:28px;line-height:28px;"><span style="display:inline-block;transform:translateY(0.6px) scaleX(1.0);transform-origin:center center;">0</span></div>
<div class="t d c" style="left:545px;top:406px;width:41px;height:28px;line-height:28px;"><span style="display:inline-block;transform:translateY(0.6px) scaleX(1.0);transform-origin:center center;">0</span></div>
<div class="t d c" style="left:587px;top:406px;width:41px;height:28px;line-height:28px;"><span style="display:inline-block;transform:translateY(0.6px) scaleX(1.0);transform-origin:center center;">0</span></div>
<div class="t d c" style="left:629px;top:406px;width:32px;height:28px;line-height:28px;"><span style="display:inline-block;transform:translateY(0.6px) scaleX(1.0);transform-origin:center center;">0</span></div>
<div class="t d c" style="left:662px;top:406px;width:37px;height:28px;line-height:28px;"><span style="display:inline-block;transform:translateY(0.6px) scaleX(1.0);transform-origin:center center;">0</span></div>
<div class="t d c" style="left:700px;top:406px;width:41px;height:28px;line-height:28px;"><span style="display:inline-block;transform:translateY(0.6px) scaleX(1.0);transform-origin:center center;">2</span></div>
<div class="t d c" style="left:742px;top:406px;width:34px;height:28px;line-height:28px;"><span style="display:inline-block;transform:translateY(0.6px) scaleX(1.0);transform-origin:center center;">0</span></div>
<div class="t d c" style="left:777px;top:406px;width:34px;height:28px;line-height:28px;"><span style="display:inline-block;transform:translateY(0.6px) scaleX(1.0);transform-origin:center center;">0</span></div>
<div class="t d c" style="left:812px;top:406px;width:36px;height:28px;line-height:28px;"><span style="display:inline-block;transform:translateY(0.6px) scaleX(1.0);transform-origin:center center;">0</span></div>
<div class="t d c" style="left:849px;top:406px;width:57px;height:28px;line-height:28px;"><span style="display:inline-block;transform:translateY(0.6px) scaleX(1.0);transform-origin:center center;">.125</span></div>
<div class="t d c" style="left:907px;top:406px;width:57px;height:28px;line-height:28px;"><span style="display:inline-block;transform:translateY(0.6px) scaleX(1.0);transform-origin:center center;">.125</span></div>
<div class="t d c" style="left:965px;top:406px;width:57px;height:28px;line-height:28px;"><span style="display:inline-block;transform:translateY(0.6px) scaleX(1.0);transform-origin:center center;">.125</span></div>
<div class="t d c" style="left:1023px;top:406px;width:56px;height:28px;line-height:28px;"><span style="display:inline-block;transform:translateY(0.6px) scaleX(1.0);transform-origin:center center;">.250</span></div>
<div class="t d c" style="left:9px;top:435px;width:34px;height:27px;line-height:27px;"><span style="display:inline-block;transform:translateY(0.6px) scaleX(1.0);transform-origin:center center;">33</span></div>
<div class="t d nm l" style="left:44px;top:435px;width:104px;height:27px;line-height:27px;"><span style="display:inline-block;transform:translateY(1.6px) scaleX(1.05);transform-origin:left center;">Higgs</span></div>
<div class="t d c" style="left:149px;top:435px;width:30px;height:27px;line-height:27px;"><span style="display:inline-block;transform:translateY(0.6px) scaleX(1.0);transform-origin:center center;">10</span></div>
<div class="t d c" style="left:180px;top:435px;width:40px;height:27px;line-height:27px;"><span style="display:inline-block;transform:translateY(0.6px) scaleX(1.0);transform-origin:center center;">4</span></div>
<div class="t d c" style="left:221px;top:435px;width:42px;height:27px;line-height:27px;"><span style="display:inline-block;transform:translateY(0.6px) scaleX(1.0);transform-origin:center center;">17</span></div>
<div class="t d c" style="left:264px;top:435px;width:40px;height:27px;line-height:27px;"><span style="display:inline-block;transform:translateY(0.6px) scaleX(1.0);transform-origin:center center;">5</span></div>
<div class="t d c" style="left:305px;top:435px;width:40px;height:27px;line-height:27px;"><span style="display:inline-block;transform:translateY(0.6px) scaleX(1.0);transform-origin:center center;">3</span></div>
<div class="t d c" style="left:346px;top:435px;width:40px;height:27px;line-height:27px;"><span style="display:inline-block;transform:translateY(0.6px) scaleX(1.0);transform-origin:center center;">2</span></div>
<div class="t d c" style="left:387px;top:435px;width:36px;height:27px;line-height:27px;"><span style="display:inline-block;transform:translateY(0.6px) scaleX(1.0);transform-origin:center center;">0</span></div>
<div class="t d c" style="left:424px;top:435px;width:40px;height:27px;line-height:27px;"><span style="display:inline-block;transform:translateY(0.6px) scaleX(1.0);transform-origin:center center;">7</span></div>
<div class="t d c" style="left:465px;top:435px;width:40px;height:27px;line-height:27px;"><span style="display:inline-block;transform:translateY(0.6px) scaleX(1.0);transform-origin:center center;">0</span></div>
<div class="t d c" style="left:506px;top:435px;width:38px;height:27px;line-height:27px;"><span style="display:inline-block;transform:translateY(0.6px) scaleX(1.0);transform-origin:center center;">0</span></div>
<div class="t d c" style="left:545px;top:435px;width:41px;height:27px;line-height:27px;"><span style="display:inline-block;transform:translateY(0.6px) scaleX(1.0);transform-origin:center center;">1</span></div>
<div class="t d c" style="left:587px;top:435px;width:41px;height:27px;line-height:27px;"><span style="display:inline-block;transform:translateY(0.6px) scaleX(1.0);transform-origin:center center;">0</span></div>
<div class="t d c" style="left:629px;top:435px;width:32px;height:27px;line-height:27px;"><span style="display:inline-block;transform:translateY(0.6px) scaleX(1.0);transform-origin:center center;">0</span></div>
<div class="t d c" style="left:662px;top:435px;width:37px;height:27px;line-height:27px;"><span style="display:inline-block;transform:translateY(0.6px) scaleX(1.0);transform-origin:center center;">0</span></div>
<div class="t d c" style="left:700px;top:435px;width:41px;height:27px;line-height:27px;"><span style="display:inline-block;transform:translateY(0.6px) scaleX(1.0);transform-origin:center center;">8</span></div>
<div class="t d c" style="left:742px;top:435px;width:34px;height:27px;line-height:27px;"><span style="display:inline-block;transform:translateY(0.6px) scaleX(1.0);transform-origin:center center;">1</span></div>
<div class="t d c" style="left:777px;top:435px;width:34px;height:27px;line-height:27px;"><span style="display:inline-block;transform:translateY(0.6px) scaleX(1.0);transform-origin:center center;">0</span></div>
<div class="t d c" style="left:812px;top:435px;width:36px;height:27px;line-height:27px;"><span style="display:inline-block;transform:translateY(0.6px) scaleX(1.0);transform-origin:center center;">0</span></div>
<div class="t d c" style="left:849px;top:435px;width:57px;height:27px;line-height:27px;"><span style="display:inline-block;transform:translateY(0.6px) scaleX(1.0);transform-origin:center center;">.294</span></div>
<div class="t d c" style="left:907px;top:435px;width:57px;height:27px;line-height:27px;"><span style="display:inline-block;transform:translateY(0.6px) scaleX(1.0);transform-origin:center center;">.333</span></div>
<div class="t d c" style="left:965px;top:435px;width:57px;height:27px;line-height:27px;"><span style="display:inline-block;transform:translateY(0.6px) scaleX(1.0);transform-origin:center center;">.412</span></div>
<div class="t d c" style="left:1023px;top:435px;width:56px;height:27px;line-height:27px;"><span style="display:inline-block;transform:translateY(0.6px) scaleX(1.0);transform-origin:center center;">.745</span></div>
<div class="t d c" style="left:9px;top:463px;width:34px;height:27px;line-height:27px;"><span style="display:inline-block;transform:translateY(1.6px) scaleX(1.0);transform-origin:center center;">16</span></div>
<div class="t d nm l" style="left:44px;top:463px;width:104px;height:27px;line-height:27px;"><span style="display:inline-block;transform:translateY(2.6px) scaleX(1.05);transform-origin:left center;">Zambo</span></div>
<div class="t d c" style="left:149px;top:463px;width:30px;height:27px;line-height:27px;"><span style="display:inline-block;transform:translateY(1.6px) scaleX(1.0);transform-origin:center center;">5</span></div>
<div class="t d c" style="left:180px;top:463px;width:40px;height:27px;line-height:27px;"><span style="display:inline-block;transform:translateY(1.6px) scaleX(1.0);transform-origin:center center;">0</span></div>
<div class="t d c" style="left:221px;top:463px;width:42px;height:27px;line-height:27px;"><span style="display:inline-block;transform:translateY(1.6px) scaleX(1.0);transform-origin:center center;">5</span></div>
<div class="t d c" style="left:264px;top:463px;width:40px;height:27px;line-height:27px;"><span style="display:inline-block;transform:translateY(1.6px) scaleX(1.0);transform-origin:center center;">2</span></div>
<div class="t d c" style="left:305px;top:463px;width:40px;height:27px;line-height:27px;"><span style="display:inline-block;transform:translateY(1.6px) scaleX(1.0);transform-origin:center center;">2</span></div>
<div class="t d c" style="left:346px;top:463px;width:40px;height:27px;line-height:27px;"><span style="display:inline-block;transform:translateY(1.6px) scaleX(1.0);transform-origin:center center;">0</span></div>
<div class="t d c" style="left:387px;top:463px;width:36px;height:27px;line-height:27px;"><span style="display:inline-block;transform:translateY(1.6px) scaleX(1.0);transform-origin:center center;">0</span></div>
<div class="t d c" style="left:424px;top:463px;width:40px;height:27px;line-height:27px;"><span style="display:inline-block;transform:translateY(1.6px) scaleX(1.0);transform-origin:center center;">2</span></div>
<div class="t d c" style="left:465px;top:463px;width:40px;height:27px;line-height:27px;"><span style="display:inline-block;transform:translateY(1.6px) scaleX(1.0);transform-origin:center center;">0</span></div>
<div class="t d c" style="left:506px;top:463px;width:38px;height:27px;line-height:27px;"><span style="display:inline-block;transform:translateY(1.6px) scaleX(1.0);transform-origin:center center;">0</span></div>
<div class="t d c" style="left:545px;top:463px;width:41px;height:27px;line-height:27px;"><span style="display:inline-block;transform:translateY(1.6px) scaleX(1.0);transform-origin:center center;">1</span></div>
<div class="t d c" style="left:587px;top:463px;width:41px;height:27px;line-height:27px;"><span style="display:inline-block;transform:translateY(1.6px) scaleX(1.0);transform-origin:center center;">0</span></div>
<div class="t d c" style="left:629px;top:463px;width:32px;height:27px;line-height:27px;"><span style="display:inline-block;transform:translateY(1.6px) scaleX(1.0);transform-origin:center center;">0</span></div>
<div class="t d c" style="left:662px;top:463px;width:37px;height:27px;line-height:27px;"><span style="display:inline-block;transform:translateY(1.6px) scaleX(1.0);transform-origin:center center;">0</span></div>
<div class="t d c" style="left:700px;top:463px;width:41px;height:27px;line-height:27px;"><span style="display:inline-block;transform:translateY(1.6px) scaleX(1.0);transform-origin:center center;">0</span></div>
<div class="t d c" style="left:742px;top:463px;width:34px;height:27px;line-height:27px;"><span style="display:inline-block;transform:translateY(1.6px) scaleX(1.0);transform-origin:center center;">0</span></div>
<div class="t d c" style="left:777px;top:463px;width:34px;height:27px;line-height:27px;"><span style="display:inline-block;transform:translateY(1.6px) scaleX(1.0);transform-origin:center center;">0</span></div>
<div class="t d c" style="left:812px;top:463px;width:36px;height:27px;line-height:27px;"><span style="display:inline-block;transform:translateY(1.6px) scaleX(1.0);transform-origin:center center;">0</span></div>
<div class="t d c" style="left:849px;top:463px;width:57px;height:27px;line-height:27px;"><span style="display:inline-block;transform:translateY(1.6px) scaleX(1.0);transform-origin:center center;">.400</span></div>
<div class="t d c" style="left:907px;top:463px;width:57px;height:27px;line-height:27px;"><span style="display:inline-block;transform:translateY(1.6px) scaleX(1.0);transform-origin:center center;">.500</span></div>
<div class="t d c" style="left:965px;top:463px;width:57px;height:27px;line-height:27px;"><span style="display:inline-block;transform:translateY(1.6px) scaleX(1.0);transform-origin:center center;">.400</span></div>
<div class="t d c" style="left:1023px;top:463px;width:56px;height:27px;line-height:27px;"><span style="display:inline-block;transform:translateY(1.6px) scaleX(1.0);transform-origin:center center;">.900</span></div>
<div class="t d b tt c" style="left:9px;top:492px;width:139px;height:27px;line-height:27px;"><span style="display:inline-block;transform:translateY(0.5px) scaleX(1.16);transform-origin:center center;">Team Totals</span></div>
<div class="t d b c" style="left:180px;top:492px;width:40px;height:27px;line-height:27px;"><span style="display:inline-block;transform:translateY(1.5px) scaleX(1.06);transform-origin:center center;">198</span></div>
<div class="t d b c" style="left:221px;top:492px;width:42px;height:27px;line-height:27px;"><span style="display:inline-block;transform:translateY(1.5px) scaleX(1.06);transform-origin:center center;">962</span></div>
<div class="t d b c" style="left:264px;top:492px;width:40px;height:27px;line-height:27px;"><span style="display:inline-block;transform:translateY(1.5px) scaleX(1.06);transform-origin:center center;">311</span></div>
<div class="t d b c" style="left:305px;top:492px;width:40px;height:27px;line-height:27px;"><span style="display:inline-block;transform:translateY(1.5px) scaleX(1.06);transform-origin:center center;">206</span></div>
<div class="t d b c" style="left:346px;top:492px;width:40px;height:27px;line-height:27px;"><span style="display:inline-block;transform:translateY(1.5px) scaleX(1.06);transform-origin:center center;">63</span></div>
<div class="t d b c" style="left:387px;top:492px;width:36px;height:27px;line-height:27px;"><span style="display:inline-block;transform:translateY(1.5px) scaleX(1.06);transform-origin:center center;">15</span></div>
<div class="t d b c" style="left:424px;top:492px;width:40px;height:27px;line-height:27px;"><span style="display:inline-block;transform:translateY(1.5px) scaleX(1.06);transform-origin:center center;">485</span></div>
<div class="t d b c" style="left:465px;top:492px;width:40px;height:27px;line-height:27px;"><span style="display:inline-block;transform:translateY(1.5px) scaleX(1.06);transform-origin:center center;">27</span></div>
<div class="t d b c" style="left:506px;top:492px;width:38px;height:27px;line-height:27px;"><span style="display:inline-block;transform:translateY(1.5px) scaleX(1.06);transform-origin:center center;">176</span></div>
<div class="t d b c" style="left:545px;top:492px;width:41px;height:27px;line-height:27px;"><span style="display:inline-block;transform:translateY(1.5px) scaleX(1.06);transform-origin:center center;">84</span></div>
<div class="t d b c" style="left:587px;top:492px;width:41px;height:27px;line-height:27px;"><span style="display:inline-block;transform:translateY(1.5px) scaleX(1.06);transform-origin:center center;">22</span></div>
<div class="t d b c" style="left:629px;top:492px;width:32px;height:27px;line-height:27px;"><span style="display:inline-block;transform:translateY(1.5px) scaleX(1.06);transform-origin:center center;">13</span></div>
<div class="t d b c" style="left:662px;top:492px;width:37px;height:27px;line-height:27px;"><span style="display:inline-block;transform:translateY(1.5px) scaleX(1.06);transform-origin:center center;">12</span></div>
<div class="t d b c" style="left:700px;top:492px;width:41px;height:27px;line-height:27px;"><span style="display:inline-block;transform:translateY(1.5px) scaleX(1.06);transform-origin:center center;">206</span></div>
<div class="t d b c" style="left:742px;top:492px;width:34px;height:27px;line-height:27px;"><span style="display:inline-block;transform:translateY(1.5px) scaleX(1.06);transform-origin:center center;">23</span></div>
<div class="t d b c" style="left:777px;top:492px;width:34px;height:27px;line-height:27px;"><span style="display:inline-block;transform:translateY(1.5px) scaleX(1.06);transform-origin:center center;">73</span></div>
<div class="t d b c" style="left:812px;top:492px;width:36px;height:27px;line-height:27px;"><span style="display:inline-block;transform:translateY(1.5px) scaleX(1.06);transform-origin:center center;">6</span></div>
<div class="t d b c" style="left:849px;top:492px;width:57px;height:27px;line-height:27px;"><span style="display:inline-block;transform:translateY(1.5px) scaleX(1.06);transform-origin:center center;">.323</span></div>
<div class="t d b c" style="left:907px;top:492px;width:57px;height:27px;line-height:27px;"><span style="display:inline-block;transform:translateY(1.5px) scaleX(1.06);transform-origin:center center;">.386</span></div>
<div class="t d b c" style="left:965px;top:492px;width:57px;height:27px;line-height:27px;"><span style="display:inline-block;transform:translateY(1.5px) scaleX(1.06);transform-origin:center center;">.504</span></div>
<div class="t d b c" style="left:1023px;top:492px;width:56px;height:27px;line-height:27px;"><span style="display:inline-block;transform:translateY(1.5px) scaleX(1.06);transform-origin:center center;">.890</span></div>
<div class="t lg c" style="left:9px;top:521px;width:140px;height:28px;line-height:28px;color:#c00000;"><span style="display:inline-block;transform:translateY(1.0px) scaleX(1.04);transform-origin:center center;">Leads Team</span></div>
<div class="t lg c" style="left:148px;top:521px;width:197px;height:28px;line-height:28px;"><span style="display:inline-block;transform:translateY(1.0px) scaleX(1.04);transform-origin:center center;">Second on team</span></div>
<div class="t lg c" style="left:345px;top:521px;width:161px;height:28px;line-height:28px;"><span style="display:inline-block;transform:translateY(1.0px) scaleX(1.04);transform-origin:center center;">Third on team</span></div>
</body></html>
